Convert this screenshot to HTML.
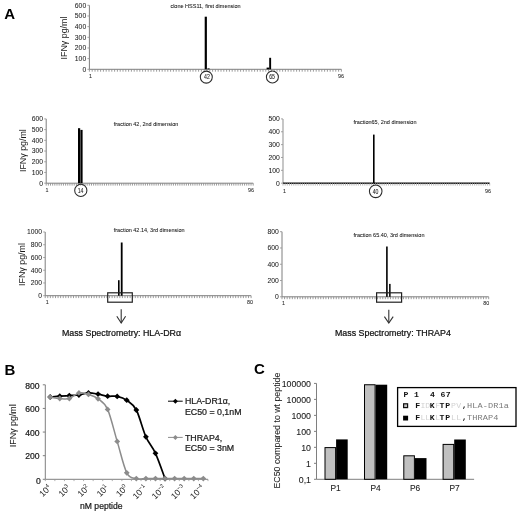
<!DOCTYPE html>
<html><head><meta charset="utf-8"><style>
html,body{margin:0;padding:0;background:#fff;width:520px;height:513px;overflow:hidden;}
svg{display:block;filter:blur(0.3px);font-family:"Liberation Sans", sans-serif;}
</style></head><body>
<svg width="520" height="513" viewBox="0 0 520 513">
<rect width="520" height="513" fill="#fff"/>
<text x="4.30" y="19.20" font-size="15" text-anchor="start" fill="#000" font-weight="bold" font-family="Liberation Sans" >A</text>
<line x1="89.40" y1="5.30" x2="89.40" y2="69.30" stroke="#7f7f7f" stroke-width="1"/>
<line x1="87.40" y1="69.30" x2="89.40" y2="69.30" stroke="#999" stroke-width="0.9"/>
<text x="86.20" y="71.70" font-size="6.8" text-anchor="end" fill="#222" stroke="#222" stroke-width="0.05" font-weight="normal" font-family="Liberation Sans" >0</text>
<line x1="87.40" y1="58.63" x2="89.40" y2="58.63" stroke="#999" stroke-width="0.9"/>
<text x="86.20" y="61.03" font-size="6.8" text-anchor="end" fill="#222" stroke="#222" stroke-width="0.05" font-weight="normal" font-family="Liberation Sans" >100</text>
<line x1="87.40" y1="47.97" x2="89.40" y2="47.97" stroke="#999" stroke-width="0.9"/>
<text x="86.20" y="50.37" font-size="6.8" text-anchor="end" fill="#222" stroke="#222" stroke-width="0.05" font-weight="normal" font-family="Liberation Sans" >200</text>
<line x1="87.40" y1="37.30" x2="89.40" y2="37.30" stroke="#999" stroke-width="0.9"/>
<text x="86.20" y="39.70" font-size="6.8" text-anchor="end" fill="#222" stroke="#222" stroke-width="0.05" font-weight="normal" font-family="Liberation Sans" >300</text>
<line x1="87.40" y1="26.63" x2="89.40" y2="26.63" stroke="#999" stroke-width="0.9"/>
<text x="86.20" y="29.03" font-size="6.8" text-anchor="end" fill="#222" stroke="#222" stroke-width="0.05" font-weight="normal" font-family="Liberation Sans" >400</text>
<line x1="87.40" y1="15.97" x2="89.40" y2="15.97" stroke="#999" stroke-width="0.9"/>
<text x="86.20" y="18.37" font-size="6.8" text-anchor="end" fill="#222" stroke="#222" stroke-width="0.05" font-weight="normal" font-family="Liberation Sans" >500</text>
<line x1="87.40" y1="5.30" x2="89.40" y2="5.30" stroke="#999" stroke-width="0.9"/>
<text x="86.20" y="7.70" font-size="6.8" text-anchor="end" fill="#222" stroke="#222" stroke-width="0.05" font-weight="normal" font-family="Liberation Sans" >600</text>
<line x1="89.40" y1="69.30" x2="341.40" y2="69.30" stroke="#7f7f7f" stroke-width="1"/>
<line x1="89.40" y1="69.30" x2="89.40" y2="71.70" stroke="#8a8a8a" stroke-width="0.85"/>
<line x1="92.20" y1="69.30" x2="92.20" y2="71.70" stroke="#8a8a8a" stroke-width="0.85"/>
<line x1="95.00" y1="69.30" x2="95.00" y2="71.70" stroke="#8a8a8a" stroke-width="0.85"/>
<line x1="97.80" y1="69.30" x2="97.80" y2="71.70" stroke="#8a8a8a" stroke-width="0.85"/>
<line x1="100.60" y1="69.30" x2="100.60" y2="71.70" stroke="#8a8a8a" stroke-width="0.85"/>
<line x1="103.40" y1="69.30" x2="103.40" y2="71.70" stroke="#8a8a8a" stroke-width="0.85"/>
<line x1="106.20" y1="69.30" x2="106.20" y2="71.70" stroke="#8a8a8a" stroke-width="0.85"/>
<line x1="109.00" y1="69.30" x2="109.00" y2="71.70" stroke="#8a8a8a" stroke-width="0.85"/>
<line x1="111.80" y1="69.30" x2="111.80" y2="71.70" stroke="#8a8a8a" stroke-width="0.85"/>
<line x1="114.60" y1="69.30" x2="114.60" y2="71.70" stroke="#8a8a8a" stroke-width="0.85"/>
<line x1="117.40" y1="69.30" x2="117.40" y2="71.70" stroke="#8a8a8a" stroke-width="0.85"/>
<line x1="120.20" y1="69.30" x2="120.20" y2="71.70" stroke="#8a8a8a" stroke-width="0.85"/>
<line x1="123.00" y1="69.30" x2="123.00" y2="71.70" stroke="#8a8a8a" stroke-width="0.85"/>
<line x1="125.80" y1="69.30" x2="125.80" y2="71.70" stroke="#8a8a8a" stroke-width="0.85"/>
<line x1="128.60" y1="69.30" x2="128.60" y2="71.70" stroke="#8a8a8a" stroke-width="0.85"/>
<line x1="131.40" y1="69.30" x2="131.40" y2="71.70" stroke="#8a8a8a" stroke-width="0.85"/>
<line x1="134.20" y1="69.30" x2="134.20" y2="71.70" stroke="#8a8a8a" stroke-width="0.85"/>
<line x1="137.00" y1="69.30" x2="137.00" y2="71.70" stroke="#8a8a8a" stroke-width="0.85"/>
<line x1="139.80" y1="69.30" x2="139.80" y2="71.70" stroke="#8a8a8a" stroke-width="0.85"/>
<line x1="142.60" y1="69.30" x2="142.60" y2="71.70" stroke="#8a8a8a" stroke-width="0.85"/>
<line x1="145.40" y1="69.30" x2="145.40" y2="71.70" stroke="#8a8a8a" stroke-width="0.85"/>
<line x1="148.20" y1="69.30" x2="148.20" y2="71.70" stroke="#8a8a8a" stroke-width="0.85"/>
<line x1="151.00" y1="69.30" x2="151.00" y2="71.70" stroke="#8a8a8a" stroke-width="0.85"/>
<line x1="153.80" y1="69.30" x2="153.80" y2="71.70" stroke="#8a8a8a" stroke-width="0.85"/>
<line x1="156.60" y1="69.30" x2="156.60" y2="71.70" stroke="#8a8a8a" stroke-width="0.85"/>
<line x1="159.40" y1="69.30" x2="159.40" y2="71.70" stroke="#8a8a8a" stroke-width="0.85"/>
<line x1="162.20" y1="69.30" x2="162.20" y2="71.70" stroke="#8a8a8a" stroke-width="0.85"/>
<line x1="165.00" y1="69.30" x2="165.00" y2="71.70" stroke="#8a8a8a" stroke-width="0.85"/>
<line x1="167.80" y1="69.30" x2="167.80" y2="71.70" stroke="#8a8a8a" stroke-width="0.85"/>
<line x1="170.60" y1="69.30" x2="170.60" y2="71.70" stroke="#8a8a8a" stroke-width="0.85"/>
<line x1="173.40" y1="69.30" x2="173.40" y2="71.70" stroke="#8a8a8a" stroke-width="0.85"/>
<line x1="176.20" y1="69.30" x2="176.20" y2="71.70" stroke="#8a8a8a" stroke-width="0.85"/>
<line x1="179.00" y1="69.30" x2="179.00" y2="71.70" stroke="#8a8a8a" stroke-width="0.85"/>
<line x1="181.80" y1="69.30" x2="181.80" y2="71.70" stroke="#8a8a8a" stroke-width="0.85"/>
<line x1="184.60" y1="69.30" x2="184.60" y2="71.70" stroke="#8a8a8a" stroke-width="0.85"/>
<line x1="187.40" y1="69.30" x2="187.40" y2="71.70" stroke="#8a8a8a" stroke-width="0.85"/>
<line x1="190.20" y1="69.30" x2="190.20" y2="71.70" stroke="#8a8a8a" stroke-width="0.85"/>
<line x1="193.00" y1="69.30" x2="193.00" y2="71.70" stroke="#8a8a8a" stroke-width="0.85"/>
<line x1="195.80" y1="69.30" x2="195.80" y2="71.70" stroke="#8a8a8a" stroke-width="0.85"/>
<line x1="198.60" y1="69.30" x2="198.60" y2="71.70" stroke="#8a8a8a" stroke-width="0.85"/>
<line x1="201.40" y1="69.30" x2="201.40" y2="71.70" stroke="#8a8a8a" stroke-width="0.85"/>
<line x1="204.20" y1="69.30" x2="204.20" y2="71.70" stroke="#8a8a8a" stroke-width="0.85"/>
<line x1="207.00" y1="69.30" x2="207.00" y2="71.70" stroke="#8a8a8a" stroke-width="0.85"/>
<line x1="209.80" y1="69.30" x2="209.80" y2="71.70" stroke="#8a8a8a" stroke-width="0.85"/>
<line x1="212.60" y1="69.30" x2="212.60" y2="71.70" stroke="#8a8a8a" stroke-width="0.85"/>
<line x1="215.40" y1="69.30" x2="215.40" y2="71.70" stroke="#8a8a8a" stroke-width="0.85"/>
<line x1="218.20" y1="69.30" x2="218.20" y2="71.70" stroke="#8a8a8a" stroke-width="0.85"/>
<line x1="221.00" y1="69.30" x2="221.00" y2="71.70" stroke="#8a8a8a" stroke-width="0.85"/>
<line x1="223.80" y1="69.30" x2="223.80" y2="71.70" stroke="#8a8a8a" stroke-width="0.85"/>
<line x1="226.60" y1="69.30" x2="226.60" y2="71.70" stroke="#8a8a8a" stroke-width="0.85"/>
<line x1="229.40" y1="69.30" x2="229.40" y2="71.70" stroke="#8a8a8a" stroke-width="0.85"/>
<line x1="232.20" y1="69.30" x2="232.20" y2="71.70" stroke="#8a8a8a" stroke-width="0.85"/>
<line x1="235.00" y1="69.30" x2="235.00" y2="71.70" stroke="#8a8a8a" stroke-width="0.85"/>
<line x1="237.80" y1="69.30" x2="237.80" y2="71.70" stroke="#8a8a8a" stroke-width="0.85"/>
<line x1="240.60" y1="69.30" x2="240.60" y2="71.70" stroke="#8a8a8a" stroke-width="0.85"/>
<line x1="243.40" y1="69.30" x2="243.40" y2="71.70" stroke="#8a8a8a" stroke-width="0.85"/>
<line x1="246.20" y1="69.30" x2="246.20" y2="71.70" stroke="#8a8a8a" stroke-width="0.85"/>
<line x1="249.00" y1="69.30" x2="249.00" y2="71.70" stroke="#8a8a8a" stroke-width="0.85"/>
<line x1="251.80" y1="69.30" x2="251.80" y2="71.70" stroke="#8a8a8a" stroke-width="0.85"/>
<line x1="254.60" y1="69.30" x2="254.60" y2="71.70" stroke="#8a8a8a" stroke-width="0.85"/>
<line x1="257.40" y1="69.30" x2="257.40" y2="71.70" stroke="#8a8a8a" stroke-width="0.85"/>
<line x1="260.20" y1="69.30" x2="260.20" y2="71.70" stroke="#8a8a8a" stroke-width="0.85"/>
<line x1="263.00" y1="69.30" x2="263.00" y2="71.70" stroke="#8a8a8a" stroke-width="0.85"/>
<line x1="265.80" y1="69.30" x2="265.80" y2="71.70" stroke="#8a8a8a" stroke-width="0.85"/>
<line x1="268.60" y1="69.30" x2="268.60" y2="71.70" stroke="#8a8a8a" stroke-width="0.85"/>
<line x1="271.40" y1="69.30" x2="271.40" y2="71.70" stroke="#8a8a8a" stroke-width="0.85"/>
<line x1="274.20" y1="69.30" x2="274.20" y2="71.70" stroke="#8a8a8a" stroke-width="0.85"/>
<line x1="277.00" y1="69.30" x2="277.00" y2="71.70" stroke="#8a8a8a" stroke-width="0.85"/>
<line x1="279.80" y1="69.30" x2="279.80" y2="71.70" stroke="#8a8a8a" stroke-width="0.85"/>
<line x1="282.60" y1="69.30" x2="282.60" y2="71.70" stroke="#8a8a8a" stroke-width="0.85"/>
<line x1="285.40" y1="69.30" x2="285.40" y2="71.70" stroke="#8a8a8a" stroke-width="0.85"/>
<line x1="288.20" y1="69.30" x2="288.20" y2="71.70" stroke="#8a8a8a" stroke-width="0.85"/>
<line x1="291.00" y1="69.30" x2="291.00" y2="71.70" stroke="#8a8a8a" stroke-width="0.85"/>
<line x1="293.80" y1="69.30" x2="293.80" y2="71.70" stroke="#8a8a8a" stroke-width="0.85"/>
<line x1="296.60" y1="69.30" x2="296.60" y2="71.70" stroke="#8a8a8a" stroke-width="0.85"/>
<line x1="299.40" y1="69.30" x2="299.40" y2="71.70" stroke="#8a8a8a" stroke-width="0.85"/>
<line x1="302.20" y1="69.30" x2="302.20" y2="71.70" stroke="#8a8a8a" stroke-width="0.85"/>
<line x1="305.00" y1="69.30" x2="305.00" y2="71.70" stroke="#8a8a8a" stroke-width="0.85"/>
<line x1="307.80" y1="69.30" x2="307.80" y2="71.70" stroke="#8a8a8a" stroke-width="0.85"/>
<line x1="310.60" y1="69.30" x2="310.60" y2="71.70" stroke="#8a8a8a" stroke-width="0.85"/>
<line x1="313.40" y1="69.30" x2="313.40" y2="71.70" stroke="#8a8a8a" stroke-width="0.85"/>
<line x1="316.20" y1="69.30" x2="316.20" y2="71.70" stroke="#8a8a8a" stroke-width="0.85"/>
<line x1="319.00" y1="69.30" x2="319.00" y2="71.70" stroke="#8a8a8a" stroke-width="0.85"/>
<line x1="321.80" y1="69.30" x2="321.80" y2="71.70" stroke="#8a8a8a" stroke-width="0.85"/>
<line x1="324.60" y1="69.30" x2="324.60" y2="71.70" stroke="#8a8a8a" stroke-width="0.85"/>
<line x1="327.40" y1="69.30" x2="327.40" y2="71.70" stroke="#8a8a8a" stroke-width="0.85"/>
<line x1="330.20" y1="69.30" x2="330.20" y2="71.70" stroke="#8a8a8a" stroke-width="0.85"/>
<line x1="333.00" y1="69.30" x2="333.00" y2="71.70" stroke="#8a8a8a" stroke-width="0.85"/>
<line x1="335.80" y1="69.30" x2="335.80" y2="71.70" stroke="#8a8a8a" stroke-width="0.85"/>
<line x1="338.60" y1="69.30" x2="338.60" y2="71.70" stroke="#8a8a8a" stroke-width="0.85"/>
<line x1="341.40" y1="69.30" x2="341.40" y2="71.70" stroke="#8a8a8a" stroke-width="0.85"/>
<text x="90.60" y="78.30" font-size="5.4" text-anchor="middle" fill="#222" stroke="#222" stroke-width="0.05" font-weight="normal" font-family="Liberation Sans" >1</text>
<text x="340.90" y="78.30" font-size="5.4" text-anchor="middle" fill="#222" stroke="#222" stroke-width="0.05" font-weight="normal" font-family="Liberation Sans" >96</text>
<text x="205.50" y="8.20" font-size="5.5" text-anchor="middle" fill="#111" stroke="#111" stroke-width="0.05" font-weight="normal" font-family="Liberation Sans" >clone HSS11, first dimension</text>
<text x="67.20" y="38.00" font-size="8.9" text-anchor="middle" fill="#1a1a1a" font-weight="normal" font-family="Liberation Sans" transform="rotate(-90 67.20 38.00)">IFN&#947; pg/ml</text>
<rect x="204.70" y="16.70" width="2.20" height="52.60" fill="#000" stroke="none" stroke-width="0"/>
<rect x="207.40" y="68.40" width="2.20" height="0.90" fill="#000" stroke="none" stroke-width="0"/>
<rect x="266.60" y="67.60" width="2.60" height="1.70" fill="#000" stroke="none" stroke-width="0"/>
<rect x="269.20" y="57.80" width="1.90" height="11.50" fill="#000" stroke="none" stroke-width="0"/>
<circle cx="206.30" cy="77.10" r="6.00" fill="none" stroke="#2a2a2a" stroke-width="1.05"/>
<text transform="translate(207.00 79.16) scale(1 1.27)" x="0" y="0" font-size="5.2" text-anchor="middle" fill="#1a1a1a" stroke="#1a1a1a" stroke-width="0.05" font-family="Liberation Sans">42</text>
<circle cx="272.40" cy="77.00" r="6.00" fill="none" stroke="#2a2a2a" stroke-width="1.05"/>
<text transform="translate(272.10 78.96) scale(1 1.27)" x="0" y="0" font-size="5.2" text-anchor="middle" fill="#1a1a1a" stroke="#1a1a1a" stroke-width="0.05" font-family="Liberation Sans">65</text>
<line x1="46.20" y1="118.90" x2="46.20" y2="183.20" stroke="#7f7f7f" stroke-width="1"/>
<line x1="44.20" y1="183.20" x2="46.20" y2="183.20" stroke="#999" stroke-width="0.9"/>
<text x="43.00" y="185.60" font-size="6.8" text-anchor="end" fill="#222" stroke="#222" stroke-width="0.05" font-weight="normal" font-family="Liberation Sans" >0</text>
<line x1="44.20" y1="172.48" x2="46.20" y2="172.48" stroke="#999" stroke-width="0.9"/>
<text x="43.00" y="174.88" font-size="6.8" text-anchor="end" fill="#222" stroke="#222" stroke-width="0.05" font-weight="normal" font-family="Liberation Sans" >100</text>
<line x1="44.20" y1="161.77" x2="46.20" y2="161.77" stroke="#999" stroke-width="0.9"/>
<text x="43.00" y="164.17" font-size="6.8" text-anchor="end" fill="#222" stroke="#222" stroke-width="0.05" font-weight="normal" font-family="Liberation Sans" >200</text>
<line x1="44.20" y1="151.05" x2="46.20" y2="151.05" stroke="#999" stroke-width="0.9"/>
<text x="43.00" y="153.45" font-size="6.8" text-anchor="end" fill="#222" stroke="#222" stroke-width="0.05" font-weight="normal" font-family="Liberation Sans" >300</text>
<line x1="44.20" y1="140.33" x2="46.20" y2="140.33" stroke="#999" stroke-width="0.9"/>
<text x="43.00" y="142.73" font-size="6.8" text-anchor="end" fill="#222" stroke="#222" stroke-width="0.05" font-weight="normal" font-family="Liberation Sans" >400</text>
<line x1="44.20" y1="129.62" x2="46.20" y2="129.62" stroke="#999" stroke-width="0.9"/>
<text x="43.00" y="132.02" font-size="6.8" text-anchor="end" fill="#222" stroke="#222" stroke-width="0.05" font-weight="normal" font-family="Liberation Sans" >500</text>
<line x1="44.20" y1="118.90" x2="46.20" y2="118.90" stroke="#999" stroke-width="0.9"/>
<text x="43.00" y="121.30" font-size="6.8" text-anchor="end" fill="#222" stroke="#222" stroke-width="0.05" font-weight="normal" font-family="Liberation Sans" >600</text>
<line x1="46.20" y1="183.20" x2="253.20" y2="183.20" stroke="#7f7f7f" stroke-width="1"/>
<line x1="46.20" y1="183.20" x2="46.20" y2="185.60" stroke="#8a8a8a" stroke-width="0.85"/>
<line x1="48.36" y1="183.20" x2="48.36" y2="185.60" stroke="#8a8a8a" stroke-width="0.85"/>
<line x1="50.51" y1="183.20" x2="50.51" y2="185.60" stroke="#8a8a8a" stroke-width="0.85"/>
<line x1="52.67" y1="183.20" x2="52.67" y2="185.60" stroke="#8a8a8a" stroke-width="0.85"/>
<line x1="54.83" y1="183.20" x2="54.83" y2="185.60" stroke="#8a8a8a" stroke-width="0.85"/>
<line x1="56.98" y1="183.20" x2="56.98" y2="185.60" stroke="#8a8a8a" stroke-width="0.85"/>
<line x1="59.14" y1="183.20" x2="59.14" y2="185.60" stroke="#8a8a8a" stroke-width="0.85"/>
<line x1="61.29" y1="183.20" x2="61.29" y2="185.60" stroke="#8a8a8a" stroke-width="0.85"/>
<line x1="63.45" y1="183.20" x2="63.45" y2="185.60" stroke="#8a8a8a" stroke-width="0.85"/>
<line x1="65.61" y1="183.20" x2="65.61" y2="185.60" stroke="#8a8a8a" stroke-width="0.85"/>
<line x1="67.76" y1="183.20" x2="67.76" y2="185.60" stroke="#8a8a8a" stroke-width="0.85"/>
<line x1="69.92" y1="183.20" x2="69.92" y2="185.60" stroke="#8a8a8a" stroke-width="0.85"/>
<line x1="72.08" y1="183.20" x2="72.08" y2="185.60" stroke="#8a8a8a" stroke-width="0.85"/>
<line x1="74.23" y1="183.20" x2="74.23" y2="185.60" stroke="#8a8a8a" stroke-width="0.85"/>
<line x1="76.39" y1="183.20" x2="76.39" y2="185.60" stroke="#8a8a8a" stroke-width="0.85"/>
<line x1="78.54" y1="183.20" x2="78.54" y2="185.60" stroke="#8a8a8a" stroke-width="0.85"/>
<line x1="80.70" y1="183.20" x2="80.70" y2="185.60" stroke="#8a8a8a" stroke-width="0.85"/>
<line x1="82.86" y1="183.20" x2="82.86" y2="185.60" stroke="#8a8a8a" stroke-width="0.85"/>
<line x1="85.01" y1="183.20" x2="85.01" y2="185.60" stroke="#8a8a8a" stroke-width="0.85"/>
<line x1="87.17" y1="183.20" x2="87.17" y2="185.60" stroke="#8a8a8a" stroke-width="0.85"/>
<line x1="89.33" y1="183.20" x2="89.33" y2="185.60" stroke="#8a8a8a" stroke-width="0.85"/>
<line x1="91.48" y1="183.20" x2="91.48" y2="185.60" stroke="#8a8a8a" stroke-width="0.85"/>
<line x1="93.64" y1="183.20" x2="93.64" y2="185.60" stroke="#8a8a8a" stroke-width="0.85"/>
<line x1="95.79" y1="183.20" x2="95.79" y2="185.60" stroke="#8a8a8a" stroke-width="0.85"/>
<line x1="97.95" y1="183.20" x2="97.95" y2="185.60" stroke="#8a8a8a" stroke-width="0.85"/>
<line x1="100.11" y1="183.20" x2="100.11" y2="185.60" stroke="#8a8a8a" stroke-width="0.85"/>
<line x1="102.26" y1="183.20" x2="102.26" y2="185.60" stroke="#8a8a8a" stroke-width="0.85"/>
<line x1="104.42" y1="183.20" x2="104.42" y2="185.60" stroke="#8a8a8a" stroke-width="0.85"/>
<line x1="106.58" y1="183.20" x2="106.58" y2="185.60" stroke="#8a8a8a" stroke-width="0.85"/>
<line x1="108.73" y1="183.20" x2="108.73" y2="185.60" stroke="#8a8a8a" stroke-width="0.85"/>
<line x1="110.89" y1="183.20" x2="110.89" y2="185.60" stroke="#8a8a8a" stroke-width="0.85"/>
<line x1="113.04" y1="183.20" x2="113.04" y2="185.60" stroke="#8a8a8a" stroke-width="0.85"/>
<line x1="115.20" y1="183.20" x2="115.20" y2="185.60" stroke="#8a8a8a" stroke-width="0.85"/>
<line x1="117.36" y1="183.20" x2="117.36" y2="185.60" stroke="#8a8a8a" stroke-width="0.85"/>
<line x1="119.51" y1="183.20" x2="119.51" y2="185.60" stroke="#8a8a8a" stroke-width="0.85"/>
<line x1="121.67" y1="183.20" x2="121.67" y2="185.60" stroke="#8a8a8a" stroke-width="0.85"/>
<line x1="123.83" y1="183.20" x2="123.83" y2="185.60" stroke="#8a8a8a" stroke-width="0.85"/>
<line x1="125.98" y1="183.20" x2="125.98" y2="185.60" stroke="#8a8a8a" stroke-width="0.85"/>
<line x1="128.14" y1="183.20" x2="128.14" y2="185.60" stroke="#8a8a8a" stroke-width="0.85"/>
<line x1="130.29" y1="183.20" x2="130.29" y2="185.60" stroke="#8a8a8a" stroke-width="0.85"/>
<line x1="132.45" y1="183.20" x2="132.45" y2="185.60" stroke="#8a8a8a" stroke-width="0.85"/>
<line x1="134.61" y1="183.20" x2="134.61" y2="185.60" stroke="#8a8a8a" stroke-width="0.85"/>
<line x1="136.76" y1="183.20" x2="136.76" y2="185.60" stroke="#8a8a8a" stroke-width="0.85"/>
<line x1="138.92" y1="183.20" x2="138.92" y2="185.60" stroke="#8a8a8a" stroke-width="0.85"/>
<line x1="141.07" y1="183.20" x2="141.07" y2="185.60" stroke="#8a8a8a" stroke-width="0.85"/>
<line x1="143.23" y1="183.20" x2="143.23" y2="185.60" stroke="#8a8a8a" stroke-width="0.85"/>
<line x1="145.39" y1="183.20" x2="145.39" y2="185.60" stroke="#8a8a8a" stroke-width="0.85"/>
<line x1="147.54" y1="183.20" x2="147.54" y2="185.60" stroke="#8a8a8a" stroke-width="0.85"/>
<line x1="149.70" y1="183.20" x2="149.70" y2="185.60" stroke="#8a8a8a" stroke-width="0.85"/>
<line x1="151.86" y1="183.20" x2="151.86" y2="185.60" stroke="#8a8a8a" stroke-width="0.85"/>
<line x1="154.01" y1="183.20" x2="154.01" y2="185.60" stroke="#8a8a8a" stroke-width="0.85"/>
<line x1="156.17" y1="183.20" x2="156.17" y2="185.60" stroke="#8a8a8a" stroke-width="0.85"/>
<line x1="158.32" y1="183.20" x2="158.32" y2="185.60" stroke="#8a8a8a" stroke-width="0.85"/>
<line x1="160.48" y1="183.20" x2="160.48" y2="185.60" stroke="#8a8a8a" stroke-width="0.85"/>
<line x1="162.64" y1="183.20" x2="162.64" y2="185.60" stroke="#8a8a8a" stroke-width="0.85"/>
<line x1="164.79" y1="183.20" x2="164.79" y2="185.60" stroke="#8a8a8a" stroke-width="0.85"/>
<line x1="166.95" y1="183.20" x2="166.95" y2="185.60" stroke="#8a8a8a" stroke-width="0.85"/>
<line x1="169.11" y1="183.20" x2="169.11" y2="185.60" stroke="#8a8a8a" stroke-width="0.85"/>
<line x1="171.26" y1="183.20" x2="171.26" y2="185.60" stroke="#8a8a8a" stroke-width="0.85"/>
<line x1="173.42" y1="183.20" x2="173.42" y2="185.60" stroke="#8a8a8a" stroke-width="0.85"/>
<line x1="175.57" y1="183.20" x2="175.57" y2="185.60" stroke="#8a8a8a" stroke-width="0.85"/>
<line x1="177.73" y1="183.20" x2="177.73" y2="185.60" stroke="#8a8a8a" stroke-width="0.85"/>
<line x1="179.89" y1="183.20" x2="179.89" y2="185.60" stroke="#8a8a8a" stroke-width="0.85"/>
<line x1="182.04" y1="183.20" x2="182.04" y2="185.60" stroke="#8a8a8a" stroke-width="0.85"/>
<line x1="184.20" y1="183.20" x2="184.20" y2="185.60" stroke="#8a8a8a" stroke-width="0.85"/>
<line x1="186.36" y1="183.20" x2="186.36" y2="185.60" stroke="#8a8a8a" stroke-width="0.85"/>
<line x1="188.51" y1="183.20" x2="188.51" y2="185.60" stroke="#8a8a8a" stroke-width="0.85"/>
<line x1="190.67" y1="183.20" x2="190.67" y2="185.60" stroke="#8a8a8a" stroke-width="0.85"/>
<line x1="192.82" y1="183.20" x2="192.82" y2="185.60" stroke="#8a8a8a" stroke-width="0.85"/>
<line x1="194.98" y1="183.20" x2="194.98" y2="185.60" stroke="#8a8a8a" stroke-width="0.85"/>
<line x1="197.14" y1="183.20" x2="197.14" y2="185.60" stroke="#8a8a8a" stroke-width="0.85"/>
<line x1="199.29" y1="183.20" x2="199.29" y2="185.60" stroke="#8a8a8a" stroke-width="0.85"/>
<line x1="201.45" y1="183.20" x2="201.45" y2="185.60" stroke="#8a8a8a" stroke-width="0.85"/>
<line x1="203.61" y1="183.20" x2="203.61" y2="185.60" stroke="#8a8a8a" stroke-width="0.85"/>
<line x1="205.76" y1="183.20" x2="205.76" y2="185.60" stroke="#8a8a8a" stroke-width="0.85"/>
<line x1="207.92" y1="183.20" x2="207.92" y2="185.60" stroke="#8a8a8a" stroke-width="0.85"/>
<line x1="210.07" y1="183.20" x2="210.07" y2="185.60" stroke="#8a8a8a" stroke-width="0.85"/>
<line x1="212.23" y1="183.20" x2="212.23" y2="185.60" stroke="#8a8a8a" stroke-width="0.85"/>
<line x1="214.39" y1="183.20" x2="214.39" y2="185.60" stroke="#8a8a8a" stroke-width="0.85"/>
<line x1="216.54" y1="183.20" x2="216.54" y2="185.60" stroke="#8a8a8a" stroke-width="0.85"/>
<line x1="218.70" y1="183.20" x2="218.70" y2="185.60" stroke="#8a8a8a" stroke-width="0.85"/>
<line x1="220.86" y1="183.20" x2="220.86" y2="185.60" stroke="#8a8a8a" stroke-width="0.85"/>
<line x1="223.01" y1="183.20" x2="223.01" y2="185.60" stroke="#8a8a8a" stroke-width="0.85"/>
<line x1="225.17" y1="183.20" x2="225.17" y2="185.60" stroke="#8a8a8a" stroke-width="0.85"/>
<line x1="227.32" y1="183.20" x2="227.32" y2="185.60" stroke="#8a8a8a" stroke-width="0.85"/>
<line x1="229.48" y1="183.20" x2="229.48" y2="185.60" stroke="#8a8a8a" stroke-width="0.85"/>
<line x1="231.64" y1="183.20" x2="231.64" y2="185.60" stroke="#8a8a8a" stroke-width="0.85"/>
<line x1="233.79" y1="183.20" x2="233.79" y2="185.60" stroke="#8a8a8a" stroke-width="0.85"/>
<line x1="235.95" y1="183.20" x2="235.95" y2="185.60" stroke="#8a8a8a" stroke-width="0.85"/>
<line x1="238.11" y1="183.20" x2="238.11" y2="185.60" stroke="#8a8a8a" stroke-width="0.85"/>
<line x1="240.26" y1="183.20" x2="240.26" y2="185.60" stroke="#8a8a8a" stroke-width="0.85"/>
<line x1="242.42" y1="183.20" x2="242.42" y2="185.60" stroke="#8a8a8a" stroke-width="0.85"/>
<line x1="244.57" y1="183.20" x2="244.57" y2="185.60" stroke="#8a8a8a" stroke-width="0.85"/>
<line x1="246.73" y1="183.20" x2="246.73" y2="185.60" stroke="#8a8a8a" stroke-width="0.85"/>
<line x1="248.89" y1="183.20" x2="248.89" y2="185.60" stroke="#8a8a8a" stroke-width="0.85"/>
<line x1="251.04" y1="183.20" x2="251.04" y2="185.60" stroke="#8a8a8a" stroke-width="0.85"/>
<line x1="253.20" y1="183.20" x2="253.20" y2="185.60" stroke="#8a8a8a" stroke-width="0.85"/>
<text x="47.08" y="192.20" font-size="5.4" text-anchor="middle" fill="#222" stroke="#222" stroke-width="0.05" font-weight="normal" font-family="Liberation Sans" >1</text>
<text x="251.10" y="192.20" font-size="5.4" text-anchor="middle" fill="#222" stroke="#222" stroke-width="0.05" font-weight="normal" font-family="Liberation Sans" >96</text>
<text x="146.00" y="125.50" font-size="5.5" text-anchor="middle" fill="#111" stroke="#111" stroke-width="0.05" font-weight="normal" font-family="Liberation Sans" >fraction 42, 2nd dimension</text>
<text x="25.70" y="150.60" font-size="8.9" text-anchor="middle" fill="#1a1a1a" font-weight="normal" font-family="Liberation Sans" transform="rotate(-90 25.70 150.60)">IFN&#947; pg/ml</text>
<rect x="78.00" y="128.20" width="2.20" height="55.00" fill="#000" stroke="none" stroke-width="0"/>
<rect x="80.40" y="129.90" width="2.20" height="53.30" fill="#000" stroke="none" stroke-width="0"/>
<circle cx="80.80" cy="190.40" r="6.10" fill="none" stroke="#2a2a2a" stroke-width="1.05"/>
<text transform="translate(80.60 192.76) scale(1 1.27)" x="0" y="0" font-size="5.2" text-anchor="middle" fill="#1a1a1a" stroke="#1a1a1a" stroke-width="0.05" font-family="Liberation Sans">14</text>
<line x1="283.00" y1="118.90" x2="283.00" y2="183.20" stroke="#bdbdbd" stroke-width="1.7"/>
<line x1="281.00" y1="183.20" x2="283.00" y2="183.20" stroke="#999" stroke-width="0.9"/>
<text x="279.80" y="185.60" font-size="6.8" text-anchor="end" fill="#222" stroke="#222" stroke-width="0.05" font-weight="normal" font-family="Liberation Sans" >0</text>
<line x1="281.00" y1="170.34" x2="283.00" y2="170.34" stroke="#999" stroke-width="0.9"/>
<text x="279.80" y="172.74" font-size="6.8" text-anchor="end" fill="#222" stroke="#222" stroke-width="0.05" font-weight="normal" font-family="Liberation Sans" >100</text>
<line x1="281.00" y1="157.48" x2="283.00" y2="157.48" stroke="#999" stroke-width="0.9"/>
<text x="279.80" y="159.88" font-size="6.8" text-anchor="end" fill="#222" stroke="#222" stroke-width="0.05" font-weight="normal" font-family="Liberation Sans" >200</text>
<line x1="281.00" y1="144.62" x2="283.00" y2="144.62" stroke="#999" stroke-width="0.9"/>
<text x="279.80" y="147.02" font-size="6.8" text-anchor="end" fill="#222" stroke="#222" stroke-width="0.05" font-weight="normal" font-family="Liberation Sans" >300</text>
<line x1="281.00" y1="131.76" x2="283.00" y2="131.76" stroke="#999" stroke-width="0.9"/>
<text x="279.80" y="134.16" font-size="6.8" text-anchor="end" fill="#222" stroke="#222" stroke-width="0.05" font-weight="normal" font-family="Liberation Sans" >400</text>
<line x1="281.00" y1="118.90" x2="283.00" y2="118.90" stroke="#999" stroke-width="0.9"/>
<text x="279.80" y="121.30" font-size="6.8" text-anchor="end" fill="#222" stroke="#222" stroke-width="0.05" font-weight="normal" font-family="Liberation Sans" >500</text>
<line x1="283.00" y1="183.20" x2="489.70" y2="183.20" stroke="#111" stroke-width="1.4"/>
<line x1="283.00" y1="183.20" x2="283.00" y2="185.60" stroke="#aaaaaa" stroke-width="0.85"/>
<line x1="285.15" y1="183.20" x2="285.15" y2="185.60" stroke="#aaaaaa" stroke-width="0.85"/>
<line x1="287.31" y1="183.20" x2="287.31" y2="185.60" stroke="#aaaaaa" stroke-width="0.85"/>
<line x1="289.46" y1="183.20" x2="289.46" y2="185.60" stroke="#aaaaaa" stroke-width="0.85"/>
<line x1="291.61" y1="183.20" x2="291.61" y2="185.60" stroke="#aaaaaa" stroke-width="0.85"/>
<line x1="293.77" y1="183.20" x2="293.77" y2="185.60" stroke="#aaaaaa" stroke-width="0.85"/>
<line x1="295.92" y1="183.20" x2="295.92" y2="185.60" stroke="#aaaaaa" stroke-width="0.85"/>
<line x1="298.07" y1="183.20" x2="298.07" y2="185.60" stroke="#aaaaaa" stroke-width="0.85"/>
<line x1="300.23" y1="183.20" x2="300.23" y2="185.60" stroke="#aaaaaa" stroke-width="0.85"/>
<line x1="302.38" y1="183.20" x2="302.38" y2="185.60" stroke="#aaaaaa" stroke-width="0.85"/>
<line x1="304.53" y1="183.20" x2="304.53" y2="185.60" stroke="#aaaaaa" stroke-width="0.85"/>
<line x1="306.68" y1="183.20" x2="306.68" y2="185.60" stroke="#aaaaaa" stroke-width="0.85"/>
<line x1="308.84" y1="183.20" x2="308.84" y2="185.60" stroke="#aaaaaa" stroke-width="0.85"/>
<line x1="310.99" y1="183.20" x2="310.99" y2="185.60" stroke="#aaaaaa" stroke-width="0.85"/>
<line x1="313.14" y1="183.20" x2="313.14" y2="185.60" stroke="#aaaaaa" stroke-width="0.85"/>
<line x1="315.30" y1="183.20" x2="315.30" y2="185.60" stroke="#aaaaaa" stroke-width="0.85"/>
<line x1="317.45" y1="183.20" x2="317.45" y2="185.60" stroke="#aaaaaa" stroke-width="0.85"/>
<line x1="319.60" y1="183.20" x2="319.60" y2="185.60" stroke="#aaaaaa" stroke-width="0.85"/>
<line x1="321.76" y1="183.20" x2="321.76" y2="185.60" stroke="#aaaaaa" stroke-width="0.85"/>
<line x1="323.91" y1="183.20" x2="323.91" y2="185.60" stroke="#aaaaaa" stroke-width="0.85"/>
<line x1="326.06" y1="183.20" x2="326.06" y2="185.60" stroke="#aaaaaa" stroke-width="0.85"/>
<line x1="328.22" y1="183.20" x2="328.22" y2="185.60" stroke="#aaaaaa" stroke-width="0.85"/>
<line x1="330.37" y1="183.20" x2="330.37" y2="185.60" stroke="#aaaaaa" stroke-width="0.85"/>
<line x1="332.52" y1="183.20" x2="332.52" y2="185.60" stroke="#aaaaaa" stroke-width="0.85"/>
<line x1="334.68" y1="183.20" x2="334.68" y2="185.60" stroke="#aaaaaa" stroke-width="0.85"/>
<line x1="336.83" y1="183.20" x2="336.83" y2="185.60" stroke="#aaaaaa" stroke-width="0.85"/>
<line x1="338.98" y1="183.20" x2="338.98" y2="185.60" stroke="#aaaaaa" stroke-width="0.85"/>
<line x1="341.13" y1="183.20" x2="341.13" y2="185.60" stroke="#aaaaaa" stroke-width="0.85"/>
<line x1="343.29" y1="183.20" x2="343.29" y2="185.60" stroke="#aaaaaa" stroke-width="0.85"/>
<line x1="345.44" y1="183.20" x2="345.44" y2="185.60" stroke="#aaaaaa" stroke-width="0.85"/>
<line x1="347.59" y1="183.20" x2="347.59" y2="185.60" stroke="#aaaaaa" stroke-width="0.85"/>
<line x1="349.75" y1="183.20" x2="349.75" y2="185.60" stroke="#aaaaaa" stroke-width="0.85"/>
<line x1="351.90" y1="183.20" x2="351.90" y2="185.60" stroke="#aaaaaa" stroke-width="0.85"/>
<line x1="354.05" y1="183.20" x2="354.05" y2="185.60" stroke="#aaaaaa" stroke-width="0.85"/>
<line x1="356.21" y1="183.20" x2="356.21" y2="185.60" stroke="#aaaaaa" stroke-width="0.85"/>
<line x1="358.36" y1="183.20" x2="358.36" y2="185.60" stroke="#aaaaaa" stroke-width="0.85"/>
<line x1="360.51" y1="183.20" x2="360.51" y2="185.60" stroke="#aaaaaa" stroke-width="0.85"/>
<line x1="362.67" y1="183.20" x2="362.67" y2="185.60" stroke="#aaaaaa" stroke-width="0.85"/>
<line x1="364.82" y1="183.20" x2="364.82" y2="185.60" stroke="#aaaaaa" stroke-width="0.85"/>
<line x1="366.97" y1="183.20" x2="366.97" y2="185.60" stroke="#aaaaaa" stroke-width="0.85"/>
<line x1="369.12" y1="183.20" x2="369.12" y2="185.60" stroke="#aaaaaa" stroke-width="0.85"/>
<line x1="371.28" y1="183.20" x2="371.28" y2="185.60" stroke="#aaaaaa" stroke-width="0.85"/>
<line x1="373.43" y1="183.20" x2="373.43" y2="185.60" stroke="#aaaaaa" stroke-width="0.85"/>
<line x1="375.58" y1="183.20" x2="375.58" y2="185.60" stroke="#aaaaaa" stroke-width="0.85"/>
<line x1="377.74" y1="183.20" x2="377.74" y2="185.60" stroke="#aaaaaa" stroke-width="0.85"/>
<line x1="379.89" y1="183.20" x2="379.89" y2="185.60" stroke="#aaaaaa" stroke-width="0.85"/>
<line x1="382.04" y1="183.20" x2="382.04" y2="185.60" stroke="#aaaaaa" stroke-width="0.85"/>
<line x1="384.20" y1="183.20" x2="384.20" y2="185.60" stroke="#aaaaaa" stroke-width="0.85"/>
<line x1="386.35" y1="183.20" x2="386.35" y2="185.60" stroke="#aaaaaa" stroke-width="0.85"/>
<line x1="388.50" y1="183.20" x2="388.50" y2="185.60" stroke="#aaaaaa" stroke-width="0.85"/>
<line x1="390.66" y1="183.20" x2="390.66" y2="185.60" stroke="#aaaaaa" stroke-width="0.85"/>
<line x1="392.81" y1="183.20" x2="392.81" y2="185.60" stroke="#aaaaaa" stroke-width="0.85"/>
<line x1="394.96" y1="183.20" x2="394.96" y2="185.60" stroke="#aaaaaa" stroke-width="0.85"/>
<line x1="397.12" y1="183.20" x2="397.12" y2="185.60" stroke="#aaaaaa" stroke-width="0.85"/>
<line x1="399.27" y1="183.20" x2="399.27" y2="185.60" stroke="#aaaaaa" stroke-width="0.85"/>
<line x1="401.42" y1="183.20" x2="401.42" y2="185.60" stroke="#aaaaaa" stroke-width="0.85"/>
<line x1="403.57" y1="183.20" x2="403.57" y2="185.60" stroke="#aaaaaa" stroke-width="0.85"/>
<line x1="405.73" y1="183.20" x2="405.73" y2="185.60" stroke="#aaaaaa" stroke-width="0.85"/>
<line x1="407.88" y1="183.20" x2="407.88" y2="185.60" stroke="#aaaaaa" stroke-width="0.85"/>
<line x1="410.03" y1="183.20" x2="410.03" y2="185.60" stroke="#aaaaaa" stroke-width="0.85"/>
<line x1="412.19" y1="183.20" x2="412.19" y2="185.60" stroke="#aaaaaa" stroke-width="0.85"/>
<line x1="414.34" y1="183.20" x2="414.34" y2="185.60" stroke="#aaaaaa" stroke-width="0.85"/>
<line x1="416.49" y1="183.20" x2="416.49" y2="185.60" stroke="#aaaaaa" stroke-width="0.85"/>
<line x1="418.65" y1="183.20" x2="418.65" y2="185.60" stroke="#aaaaaa" stroke-width="0.85"/>
<line x1="420.80" y1="183.20" x2="420.80" y2="185.60" stroke="#aaaaaa" stroke-width="0.85"/>
<line x1="422.95" y1="183.20" x2="422.95" y2="185.60" stroke="#aaaaaa" stroke-width="0.85"/>
<line x1="425.11" y1="183.20" x2="425.11" y2="185.60" stroke="#aaaaaa" stroke-width="0.85"/>
<line x1="427.26" y1="183.20" x2="427.26" y2="185.60" stroke="#aaaaaa" stroke-width="0.85"/>
<line x1="429.41" y1="183.20" x2="429.41" y2="185.60" stroke="#aaaaaa" stroke-width="0.85"/>
<line x1="431.57" y1="183.20" x2="431.57" y2="185.60" stroke="#aaaaaa" stroke-width="0.85"/>
<line x1="433.72" y1="183.20" x2="433.72" y2="185.60" stroke="#aaaaaa" stroke-width="0.85"/>
<line x1="435.87" y1="183.20" x2="435.87" y2="185.60" stroke="#aaaaaa" stroke-width="0.85"/>
<line x1="438.02" y1="183.20" x2="438.02" y2="185.60" stroke="#aaaaaa" stroke-width="0.85"/>
<line x1="440.18" y1="183.20" x2="440.18" y2="185.60" stroke="#aaaaaa" stroke-width="0.85"/>
<line x1="442.33" y1="183.20" x2="442.33" y2="185.60" stroke="#aaaaaa" stroke-width="0.85"/>
<line x1="444.48" y1="183.20" x2="444.48" y2="185.60" stroke="#aaaaaa" stroke-width="0.85"/>
<line x1="446.64" y1="183.20" x2="446.64" y2="185.60" stroke="#aaaaaa" stroke-width="0.85"/>
<line x1="448.79" y1="183.20" x2="448.79" y2="185.60" stroke="#aaaaaa" stroke-width="0.85"/>
<line x1="450.94" y1="183.20" x2="450.94" y2="185.60" stroke="#aaaaaa" stroke-width="0.85"/>
<line x1="453.10" y1="183.20" x2="453.10" y2="185.60" stroke="#aaaaaa" stroke-width="0.85"/>
<line x1="455.25" y1="183.20" x2="455.25" y2="185.60" stroke="#aaaaaa" stroke-width="0.85"/>
<line x1="457.40" y1="183.20" x2="457.40" y2="185.60" stroke="#aaaaaa" stroke-width="0.85"/>
<line x1="459.56" y1="183.20" x2="459.56" y2="185.60" stroke="#aaaaaa" stroke-width="0.85"/>
<line x1="461.71" y1="183.20" x2="461.71" y2="185.60" stroke="#aaaaaa" stroke-width="0.85"/>
<line x1="463.86" y1="183.20" x2="463.86" y2="185.60" stroke="#aaaaaa" stroke-width="0.85"/>
<line x1="466.02" y1="183.20" x2="466.02" y2="185.60" stroke="#aaaaaa" stroke-width="0.85"/>
<line x1="468.17" y1="183.20" x2="468.17" y2="185.60" stroke="#aaaaaa" stroke-width="0.85"/>
<line x1="470.32" y1="183.20" x2="470.32" y2="185.60" stroke="#aaaaaa" stroke-width="0.85"/>
<line x1="472.47" y1="183.20" x2="472.47" y2="185.60" stroke="#aaaaaa" stroke-width="0.85"/>
<line x1="474.63" y1="183.20" x2="474.63" y2="185.60" stroke="#aaaaaa" stroke-width="0.85"/>
<line x1="476.78" y1="183.20" x2="476.78" y2="185.60" stroke="#aaaaaa" stroke-width="0.85"/>
<line x1="478.93" y1="183.20" x2="478.93" y2="185.60" stroke="#aaaaaa" stroke-width="0.85"/>
<line x1="481.09" y1="183.20" x2="481.09" y2="185.60" stroke="#aaaaaa" stroke-width="0.85"/>
<line x1="483.24" y1="183.20" x2="483.24" y2="185.60" stroke="#aaaaaa" stroke-width="0.85"/>
<line x1="485.39" y1="183.20" x2="485.39" y2="185.60" stroke="#aaaaaa" stroke-width="0.85"/>
<line x1="487.55" y1="183.20" x2="487.55" y2="185.60" stroke="#aaaaaa" stroke-width="0.85"/>
<line x1="489.70" y1="183.20" x2="489.70" y2="185.60" stroke="#aaaaaa" stroke-width="0.85"/>
<text x="284.50" y="193.40" font-size="5.4" text-anchor="middle" fill="#222" stroke="#222" stroke-width="0.05" font-weight="normal" font-family="Liberation Sans" >1</text>
<text x="488.00" y="193.40" font-size="5.4" text-anchor="middle" fill="#222" stroke="#222" stroke-width="0.05" font-weight="normal" font-family="Liberation Sans" >96</text>
<text x="385.00" y="124.30" font-size="5.5" text-anchor="middle" fill="#111" stroke="#111" stroke-width="0.05" font-weight="normal" font-family="Liberation Sans" >fraction65, 2nd dimension</text>
<rect x="373.00" y="134.60" width="1.60" height="48.60" fill="#000" stroke="none" stroke-width="0"/>
<circle cx="375.70" cy="191.30" r="6.30" fill="none" stroke="#2a2a2a" stroke-width="1.05"/>
<text transform="translate(375.60 193.66) scale(1 1.27)" x="0" y="0" font-size="5.2" text-anchor="middle" fill="#1a1a1a" stroke="#1a1a1a" stroke-width="0.05" font-family="Liberation Sans">40</text>
<line x1="45.20" y1="232.00" x2="45.20" y2="295.70" stroke="#7f7f7f" stroke-width="1"/>
<line x1="43.20" y1="295.70" x2="45.20" y2="295.70" stroke="#999" stroke-width="0.9"/>
<text x="42.00" y="298.10" font-size="6.8" text-anchor="end" fill="#222" stroke="#222" stroke-width="0.05" font-weight="normal" font-family="Liberation Sans" >0</text>
<line x1="43.20" y1="282.96" x2="45.20" y2="282.96" stroke="#999" stroke-width="0.9"/>
<text x="42.00" y="285.36" font-size="6.8" text-anchor="end" fill="#222" stroke="#222" stroke-width="0.05" font-weight="normal" font-family="Liberation Sans" >200</text>
<line x1="43.20" y1="270.22" x2="45.20" y2="270.22" stroke="#999" stroke-width="0.9"/>
<text x="42.00" y="272.62" font-size="6.8" text-anchor="end" fill="#222" stroke="#222" stroke-width="0.05" font-weight="normal" font-family="Liberation Sans" >400</text>
<line x1="43.20" y1="257.48" x2="45.20" y2="257.48" stroke="#999" stroke-width="0.9"/>
<text x="42.00" y="259.88" font-size="6.8" text-anchor="end" fill="#222" stroke="#222" stroke-width="0.05" font-weight="normal" font-family="Liberation Sans" >600</text>
<line x1="43.20" y1="244.74" x2="45.20" y2="244.74" stroke="#999" stroke-width="0.9"/>
<text x="42.00" y="247.14" font-size="6.8" text-anchor="end" fill="#222" stroke="#222" stroke-width="0.05" font-weight="normal" font-family="Liberation Sans" >800</text>
<line x1="43.20" y1="232.00" x2="45.20" y2="232.00" stroke="#999" stroke-width="0.9"/>
<text x="42.00" y="234.40" font-size="6.8" text-anchor="end" fill="#222" stroke="#222" stroke-width="0.05" font-weight="normal" font-family="Liberation Sans" >1000</text>
<line x1="45.20" y1="295.70" x2="251.10" y2="295.70" stroke="#7f7f7f" stroke-width="1"/>
<line x1="45.20" y1="295.70" x2="45.20" y2="298.10" stroke="#8a8a8a" stroke-width="0.85"/>
<line x1="47.77" y1="295.70" x2="47.77" y2="298.10" stroke="#8a8a8a" stroke-width="0.85"/>
<line x1="50.35" y1="295.70" x2="50.35" y2="298.10" stroke="#8a8a8a" stroke-width="0.85"/>
<line x1="52.92" y1="295.70" x2="52.92" y2="298.10" stroke="#8a8a8a" stroke-width="0.85"/>
<line x1="55.50" y1="295.70" x2="55.50" y2="298.10" stroke="#8a8a8a" stroke-width="0.85"/>
<line x1="58.07" y1="295.70" x2="58.07" y2="298.10" stroke="#8a8a8a" stroke-width="0.85"/>
<line x1="60.64" y1="295.70" x2="60.64" y2="298.10" stroke="#8a8a8a" stroke-width="0.85"/>
<line x1="63.22" y1="295.70" x2="63.22" y2="298.10" stroke="#8a8a8a" stroke-width="0.85"/>
<line x1="65.79" y1="295.70" x2="65.79" y2="298.10" stroke="#8a8a8a" stroke-width="0.85"/>
<line x1="68.36" y1="295.70" x2="68.36" y2="298.10" stroke="#8a8a8a" stroke-width="0.85"/>
<line x1="70.94" y1="295.70" x2="70.94" y2="298.10" stroke="#8a8a8a" stroke-width="0.85"/>
<line x1="73.51" y1="295.70" x2="73.51" y2="298.10" stroke="#8a8a8a" stroke-width="0.85"/>
<line x1="76.08" y1="295.70" x2="76.08" y2="298.10" stroke="#8a8a8a" stroke-width="0.85"/>
<line x1="78.66" y1="295.70" x2="78.66" y2="298.10" stroke="#8a8a8a" stroke-width="0.85"/>
<line x1="81.23" y1="295.70" x2="81.23" y2="298.10" stroke="#8a8a8a" stroke-width="0.85"/>
<line x1="83.81" y1="295.70" x2="83.81" y2="298.10" stroke="#8a8a8a" stroke-width="0.85"/>
<line x1="86.38" y1="295.70" x2="86.38" y2="298.10" stroke="#8a8a8a" stroke-width="0.85"/>
<line x1="88.95" y1="295.70" x2="88.95" y2="298.10" stroke="#8a8a8a" stroke-width="0.85"/>
<line x1="91.53" y1="295.70" x2="91.53" y2="298.10" stroke="#8a8a8a" stroke-width="0.85"/>
<line x1="94.10" y1="295.70" x2="94.10" y2="298.10" stroke="#8a8a8a" stroke-width="0.85"/>
<line x1="96.67" y1="295.70" x2="96.67" y2="298.10" stroke="#8a8a8a" stroke-width="0.85"/>
<line x1="99.25" y1="295.70" x2="99.25" y2="298.10" stroke="#8a8a8a" stroke-width="0.85"/>
<line x1="101.82" y1="295.70" x2="101.82" y2="298.10" stroke="#8a8a8a" stroke-width="0.85"/>
<line x1="104.40" y1="295.70" x2="104.40" y2="298.10" stroke="#8a8a8a" stroke-width="0.85"/>
<line x1="106.97" y1="295.70" x2="106.97" y2="298.10" stroke="#8a8a8a" stroke-width="0.85"/>
<line x1="109.54" y1="295.70" x2="109.54" y2="298.10" stroke="#8a8a8a" stroke-width="0.85"/>
<line x1="112.12" y1="295.70" x2="112.12" y2="298.10" stroke="#8a8a8a" stroke-width="0.85"/>
<line x1="114.69" y1="295.70" x2="114.69" y2="298.10" stroke="#8a8a8a" stroke-width="0.85"/>
<line x1="117.26" y1="295.70" x2="117.26" y2="298.10" stroke="#8a8a8a" stroke-width="0.85"/>
<line x1="119.84" y1="295.70" x2="119.84" y2="298.10" stroke="#8a8a8a" stroke-width="0.85"/>
<line x1="122.41" y1="295.70" x2="122.41" y2="298.10" stroke="#8a8a8a" stroke-width="0.85"/>
<line x1="124.99" y1="295.70" x2="124.99" y2="298.10" stroke="#8a8a8a" stroke-width="0.85"/>
<line x1="127.56" y1="295.70" x2="127.56" y2="298.10" stroke="#8a8a8a" stroke-width="0.85"/>
<line x1="130.13" y1="295.70" x2="130.13" y2="298.10" stroke="#8a8a8a" stroke-width="0.85"/>
<line x1="132.71" y1="295.70" x2="132.71" y2="298.10" stroke="#8a8a8a" stroke-width="0.85"/>
<line x1="135.28" y1="295.70" x2="135.28" y2="298.10" stroke="#8a8a8a" stroke-width="0.85"/>
<line x1="137.85" y1="295.70" x2="137.85" y2="298.10" stroke="#8a8a8a" stroke-width="0.85"/>
<line x1="140.43" y1="295.70" x2="140.43" y2="298.10" stroke="#8a8a8a" stroke-width="0.85"/>
<line x1="143.00" y1="295.70" x2="143.00" y2="298.10" stroke="#8a8a8a" stroke-width="0.85"/>
<line x1="145.58" y1="295.70" x2="145.58" y2="298.10" stroke="#8a8a8a" stroke-width="0.85"/>
<line x1="148.15" y1="295.70" x2="148.15" y2="298.10" stroke="#8a8a8a" stroke-width="0.85"/>
<line x1="150.72" y1="295.70" x2="150.72" y2="298.10" stroke="#8a8a8a" stroke-width="0.85"/>
<line x1="153.30" y1="295.70" x2="153.30" y2="298.10" stroke="#8a8a8a" stroke-width="0.85"/>
<line x1="155.87" y1="295.70" x2="155.87" y2="298.10" stroke="#8a8a8a" stroke-width="0.85"/>
<line x1="158.44" y1="295.70" x2="158.44" y2="298.10" stroke="#8a8a8a" stroke-width="0.85"/>
<line x1="161.02" y1="295.70" x2="161.02" y2="298.10" stroke="#8a8a8a" stroke-width="0.85"/>
<line x1="163.59" y1="295.70" x2="163.59" y2="298.10" stroke="#8a8a8a" stroke-width="0.85"/>
<line x1="166.17" y1="295.70" x2="166.17" y2="298.10" stroke="#8a8a8a" stroke-width="0.85"/>
<line x1="168.74" y1="295.70" x2="168.74" y2="298.10" stroke="#8a8a8a" stroke-width="0.85"/>
<line x1="171.31" y1="295.70" x2="171.31" y2="298.10" stroke="#8a8a8a" stroke-width="0.85"/>
<line x1="173.89" y1="295.70" x2="173.89" y2="298.10" stroke="#8a8a8a" stroke-width="0.85"/>
<line x1="176.46" y1="295.70" x2="176.46" y2="298.10" stroke="#8a8a8a" stroke-width="0.85"/>
<line x1="179.03" y1="295.70" x2="179.03" y2="298.10" stroke="#8a8a8a" stroke-width="0.85"/>
<line x1="181.61" y1="295.70" x2="181.61" y2="298.10" stroke="#8a8a8a" stroke-width="0.85"/>
<line x1="184.18" y1="295.70" x2="184.18" y2="298.10" stroke="#8a8a8a" stroke-width="0.85"/>
<line x1="186.76" y1="295.70" x2="186.76" y2="298.10" stroke="#8a8a8a" stroke-width="0.85"/>
<line x1="189.33" y1="295.70" x2="189.33" y2="298.10" stroke="#8a8a8a" stroke-width="0.85"/>
<line x1="191.90" y1="295.70" x2="191.90" y2="298.10" stroke="#8a8a8a" stroke-width="0.85"/>
<line x1="194.48" y1="295.70" x2="194.48" y2="298.10" stroke="#8a8a8a" stroke-width="0.85"/>
<line x1="197.05" y1="295.70" x2="197.05" y2="298.10" stroke="#8a8a8a" stroke-width="0.85"/>
<line x1="199.62" y1="295.70" x2="199.62" y2="298.10" stroke="#8a8a8a" stroke-width="0.85"/>
<line x1="202.20" y1="295.70" x2="202.20" y2="298.10" stroke="#8a8a8a" stroke-width="0.85"/>
<line x1="204.77" y1="295.70" x2="204.77" y2="298.10" stroke="#8a8a8a" stroke-width="0.85"/>
<line x1="207.35" y1="295.70" x2="207.35" y2="298.10" stroke="#8a8a8a" stroke-width="0.85"/>
<line x1="209.92" y1="295.70" x2="209.92" y2="298.10" stroke="#8a8a8a" stroke-width="0.85"/>
<line x1="212.49" y1="295.70" x2="212.49" y2="298.10" stroke="#8a8a8a" stroke-width="0.85"/>
<line x1="215.07" y1="295.70" x2="215.07" y2="298.10" stroke="#8a8a8a" stroke-width="0.85"/>
<line x1="217.64" y1="295.70" x2="217.64" y2="298.10" stroke="#8a8a8a" stroke-width="0.85"/>
<line x1="220.21" y1="295.70" x2="220.21" y2="298.10" stroke="#8a8a8a" stroke-width="0.85"/>
<line x1="222.79" y1="295.70" x2="222.79" y2="298.10" stroke="#8a8a8a" stroke-width="0.85"/>
<line x1="225.36" y1="295.70" x2="225.36" y2="298.10" stroke="#8a8a8a" stroke-width="0.85"/>
<line x1="227.94" y1="295.70" x2="227.94" y2="298.10" stroke="#8a8a8a" stroke-width="0.85"/>
<line x1="230.51" y1="295.70" x2="230.51" y2="298.10" stroke="#8a8a8a" stroke-width="0.85"/>
<line x1="233.08" y1="295.70" x2="233.08" y2="298.10" stroke="#8a8a8a" stroke-width="0.85"/>
<line x1="235.66" y1="295.70" x2="235.66" y2="298.10" stroke="#8a8a8a" stroke-width="0.85"/>
<line x1="238.23" y1="295.70" x2="238.23" y2="298.10" stroke="#8a8a8a" stroke-width="0.85"/>
<line x1="240.80" y1="295.70" x2="240.80" y2="298.10" stroke="#8a8a8a" stroke-width="0.85"/>
<line x1="243.38" y1="295.70" x2="243.38" y2="298.10" stroke="#8a8a8a" stroke-width="0.85"/>
<line x1="245.95" y1="295.70" x2="245.95" y2="298.10" stroke="#8a8a8a" stroke-width="0.85"/>
<line x1="248.53" y1="295.70" x2="248.53" y2="298.10" stroke="#8a8a8a" stroke-width="0.85"/>
<line x1="251.10" y1="295.70" x2="251.10" y2="298.10" stroke="#8a8a8a" stroke-width="0.85"/>
<text x="47.30" y="304.20" font-size="5.4" text-anchor="middle" fill="#222" stroke="#222" stroke-width="0.05" font-weight="normal" font-family="Liberation Sans" >1</text>
<text x="250.10" y="304.20" font-size="5.4" text-anchor="middle" fill="#222" stroke="#222" stroke-width="0.05" font-weight="normal" font-family="Liberation Sans" >80</text>
<text x="149.20" y="231.60" font-size="5.5" text-anchor="middle" fill="#111" stroke="#111" stroke-width="0.05" font-weight="normal" font-family="Liberation Sans" >fraction 42.14, 3rd dimension</text>
<text x="24.70" y="264.50" font-size="8.9" text-anchor="middle" fill="#1a1a1a" font-weight="normal" font-family="Liberation Sans" transform="rotate(-90 24.70 264.50)">IFN&#947; pg/ml</text>
<rect x="118.00" y="280.20" width="1.60" height="15.50" fill="#000" stroke="none" stroke-width="0"/>
<rect x="120.80" y="242.50" width="1.80" height="53.20" fill="#000" stroke="none" stroke-width="0"/>
<rect x="107.7" y="292.8" width="24.6" height="9.4" fill="none" stroke="#222" stroke-width="1.2"/>
<line x1="121.20" y1="309.20" x2="121.20" y2="323.00" stroke="#333" stroke-width="1.1"/>
<polyline points="116.8,316.2 121.2,323 125.6,316.2" fill="none" stroke="#333" stroke-width="1.1"/>
<text x="61.90" y="335.80" font-size="8.85" text-anchor="start" fill="#111" stroke="#111" stroke-width="0.22" font-weight="normal" font-family="Liberation Sans" >Mass Spectrometry: HLA-DR&#945;</text>
<line x1="282.00" y1="231.70" x2="282.00" y2="296.80" stroke="#7f7f7f" stroke-width="1"/>
<line x1="280.00" y1="296.80" x2="282.00" y2="296.80" stroke="#999" stroke-width="0.9"/>
<text x="278.80" y="299.20" font-size="6.8" text-anchor="end" fill="#222" stroke="#222" stroke-width="0.05" font-weight="normal" font-family="Liberation Sans" >0</text>
<line x1="280.00" y1="280.52" x2="282.00" y2="280.52" stroke="#999" stroke-width="0.9"/>
<text x="278.80" y="282.92" font-size="6.8" text-anchor="end" fill="#222" stroke="#222" stroke-width="0.05" font-weight="normal" font-family="Liberation Sans" >200</text>
<line x1="280.00" y1="264.25" x2="282.00" y2="264.25" stroke="#999" stroke-width="0.9"/>
<text x="278.80" y="266.65" font-size="6.8" text-anchor="end" fill="#222" stroke="#222" stroke-width="0.05" font-weight="normal" font-family="Liberation Sans" >400</text>
<line x1="280.00" y1="247.97" x2="282.00" y2="247.97" stroke="#999" stroke-width="0.9"/>
<text x="278.80" y="250.38" font-size="6.8" text-anchor="end" fill="#222" stroke="#222" stroke-width="0.05" font-weight="normal" font-family="Liberation Sans" >600</text>
<line x1="280.00" y1="231.70" x2="282.00" y2="231.70" stroke="#999" stroke-width="0.9"/>
<text x="278.80" y="234.10" font-size="6.8" text-anchor="end" fill="#222" stroke="#222" stroke-width="0.05" font-weight="normal" font-family="Liberation Sans" >800</text>
<line x1="282.00" y1="296.80" x2="488.70" y2="296.80" stroke="#7f7f7f" stroke-width="1"/>
<line x1="282.00" y1="296.80" x2="282.00" y2="299.20" stroke="#8a8a8a" stroke-width="0.85"/>
<line x1="284.58" y1="296.80" x2="284.58" y2="299.20" stroke="#8a8a8a" stroke-width="0.85"/>
<line x1="287.17" y1="296.80" x2="287.17" y2="299.20" stroke="#8a8a8a" stroke-width="0.85"/>
<line x1="289.75" y1="296.80" x2="289.75" y2="299.20" stroke="#8a8a8a" stroke-width="0.85"/>
<line x1="292.33" y1="296.80" x2="292.33" y2="299.20" stroke="#8a8a8a" stroke-width="0.85"/>
<line x1="294.92" y1="296.80" x2="294.92" y2="299.20" stroke="#8a8a8a" stroke-width="0.85"/>
<line x1="297.50" y1="296.80" x2="297.50" y2="299.20" stroke="#8a8a8a" stroke-width="0.85"/>
<line x1="300.09" y1="296.80" x2="300.09" y2="299.20" stroke="#8a8a8a" stroke-width="0.85"/>
<line x1="302.67" y1="296.80" x2="302.67" y2="299.20" stroke="#8a8a8a" stroke-width="0.85"/>
<line x1="305.25" y1="296.80" x2="305.25" y2="299.20" stroke="#8a8a8a" stroke-width="0.85"/>
<line x1="307.84" y1="296.80" x2="307.84" y2="299.20" stroke="#8a8a8a" stroke-width="0.85"/>
<line x1="310.42" y1="296.80" x2="310.42" y2="299.20" stroke="#8a8a8a" stroke-width="0.85"/>
<line x1="313.00" y1="296.80" x2="313.00" y2="299.20" stroke="#8a8a8a" stroke-width="0.85"/>
<line x1="315.59" y1="296.80" x2="315.59" y2="299.20" stroke="#8a8a8a" stroke-width="0.85"/>
<line x1="318.17" y1="296.80" x2="318.17" y2="299.20" stroke="#8a8a8a" stroke-width="0.85"/>
<line x1="320.76" y1="296.80" x2="320.76" y2="299.20" stroke="#8a8a8a" stroke-width="0.85"/>
<line x1="323.34" y1="296.80" x2="323.34" y2="299.20" stroke="#8a8a8a" stroke-width="0.85"/>
<line x1="325.92" y1="296.80" x2="325.92" y2="299.20" stroke="#8a8a8a" stroke-width="0.85"/>
<line x1="328.51" y1="296.80" x2="328.51" y2="299.20" stroke="#8a8a8a" stroke-width="0.85"/>
<line x1="331.09" y1="296.80" x2="331.09" y2="299.20" stroke="#8a8a8a" stroke-width="0.85"/>
<line x1="333.68" y1="296.80" x2="333.68" y2="299.20" stroke="#8a8a8a" stroke-width="0.85"/>
<line x1="336.26" y1="296.80" x2="336.26" y2="299.20" stroke="#8a8a8a" stroke-width="0.85"/>
<line x1="338.84" y1="296.80" x2="338.84" y2="299.20" stroke="#8a8a8a" stroke-width="0.85"/>
<line x1="341.43" y1="296.80" x2="341.43" y2="299.20" stroke="#8a8a8a" stroke-width="0.85"/>
<line x1="344.01" y1="296.80" x2="344.01" y2="299.20" stroke="#8a8a8a" stroke-width="0.85"/>
<line x1="346.59" y1="296.80" x2="346.59" y2="299.20" stroke="#8a8a8a" stroke-width="0.85"/>
<line x1="349.18" y1="296.80" x2="349.18" y2="299.20" stroke="#8a8a8a" stroke-width="0.85"/>
<line x1="351.76" y1="296.80" x2="351.76" y2="299.20" stroke="#8a8a8a" stroke-width="0.85"/>
<line x1="354.35" y1="296.80" x2="354.35" y2="299.20" stroke="#8a8a8a" stroke-width="0.85"/>
<line x1="356.93" y1="296.80" x2="356.93" y2="299.20" stroke="#8a8a8a" stroke-width="0.85"/>
<line x1="359.51" y1="296.80" x2="359.51" y2="299.20" stroke="#8a8a8a" stroke-width="0.85"/>
<line x1="362.10" y1="296.80" x2="362.10" y2="299.20" stroke="#8a8a8a" stroke-width="0.85"/>
<line x1="364.68" y1="296.80" x2="364.68" y2="299.20" stroke="#8a8a8a" stroke-width="0.85"/>
<line x1="367.26" y1="296.80" x2="367.26" y2="299.20" stroke="#8a8a8a" stroke-width="0.85"/>
<line x1="369.85" y1="296.80" x2="369.85" y2="299.20" stroke="#8a8a8a" stroke-width="0.85"/>
<line x1="372.43" y1="296.80" x2="372.43" y2="299.20" stroke="#8a8a8a" stroke-width="0.85"/>
<line x1="375.01" y1="296.80" x2="375.01" y2="299.20" stroke="#8a8a8a" stroke-width="0.85"/>
<line x1="377.60" y1="296.80" x2="377.60" y2="299.20" stroke="#8a8a8a" stroke-width="0.85"/>
<line x1="380.18" y1="296.80" x2="380.18" y2="299.20" stroke="#8a8a8a" stroke-width="0.85"/>
<line x1="382.77" y1="296.80" x2="382.77" y2="299.20" stroke="#8a8a8a" stroke-width="0.85"/>
<line x1="385.35" y1="296.80" x2="385.35" y2="299.20" stroke="#8a8a8a" stroke-width="0.85"/>
<line x1="387.93" y1="296.80" x2="387.93" y2="299.20" stroke="#8a8a8a" stroke-width="0.85"/>
<line x1="390.52" y1="296.80" x2="390.52" y2="299.20" stroke="#8a8a8a" stroke-width="0.85"/>
<line x1="393.10" y1="296.80" x2="393.10" y2="299.20" stroke="#8a8a8a" stroke-width="0.85"/>
<line x1="395.69" y1="296.80" x2="395.69" y2="299.20" stroke="#8a8a8a" stroke-width="0.85"/>
<line x1="398.27" y1="296.80" x2="398.27" y2="299.20" stroke="#8a8a8a" stroke-width="0.85"/>
<line x1="400.85" y1="296.80" x2="400.85" y2="299.20" stroke="#8a8a8a" stroke-width="0.85"/>
<line x1="403.44" y1="296.80" x2="403.44" y2="299.20" stroke="#8a8a8a" stroke-width="0.85"/>
<line x1="406.02" y1="296.80" x2="406.02" y2="299.20" stroke="#8a8a8a" stroke-width="0.85"/>
<line x1="408.60" y1="296.80" x2="408.60" y2="299.20" stroke="#8a8a8a" stroke-width="0.85"/>
<line x1="411.19" y1="296.80" x2="411.19" y2="299.20" stroke="#8a8a8a" stroke-width="0.85"/>
<line x1="413.77" y1="296.80" x2="413.77" y2="299.20" stroke="#8a8a8a" stroke-width="0.85"/>
<line x1="416.36" y1="296.80" x2="416.36" y2="299.20" stroke="#8a8a8a" stroke-width="0.85"/>
<line x1="418.94" y1="296.80" x2="418.94" y2="299.20" stroke="#8a8a8a" stroke-width="0.85"/>
<line x1="421.52" y1="296.80" x2="421.52" y2="299.20" stroke="#8a8a8a" stroke-width="0.85"/>
<line x1="424.11" y1="296.80" x2="424.11" y2="299.20" stroke="#8a8a8a" stroke-width="0.85"/>
<line x1="426.69" y1="296.80" x2="426.69" y2="299.20" stroke="#8a8a8a" stroke-width="0.85"/>
<line x1="429.27" y1="296.80" x2="429.27" y2="299.20" stroke="#8a8a8a" stroke-width="0.85"/>
<line x1="431.86" y1="296.80" x2="431.86" y2="299.20" stroke="#8a8a8a" stroke-width="0.85"/>
<line x1="434.44" y1="296.80" x2="434.44" y2="299.20" stroke="#8a8a8a" stroke-width="0.85"/>
<line x1="437.02" y1="296.80" x2="437.02" y2="299.20" stroke="#8a8a8a" stroke-width="0.85"/>
<line x1="439.61" y1="296.80" x2="439.61" y2="299.20" stroke="#8a8a8a" stroke-width="0.85"/>
<line x1="442.19" y1="296.80" x2="442.19" y2="299.20" stroke="#8a8a8a" stroke-width="0.85"/>
<line x1="444.78" y1="296.80" x2="444.78" y2="299.20" stroke="#8a8a8a" stroke-width="0.85"/>
<line x1="447.36" y1="296.80" x2="447.36" y2="299.20" stroke="#8a8a8a" stroke-width="0.85"/>
<line x1="449.94" y1="296.80" x2="449.94" y2="299.20" stroke="#8a8a8a" stroke-width="0.85"/>
<line x1="452.53" y1="296.80" x2="452.53" y2="299.20" stroke="#8a8a8a" stroke-width="0.85"/>
<line x1="455.11" y1="296.80" x2="455.11" y2="299.20" stroke="#8a8a8a" stroke-width="0.85"/>
<line x1="457.69" y1="296.80" x2="457.69" y2="299.20" stroke="#8a8a8a" stroke-width="0.85"/>
<line x1="460.28" y1="296.80" x2="460.28" y2="299.20" stroke="#8a8a8a" stroke-width="0.85"/>
<line x1="462.86" y1="296.80" x2="462.86" y2="299.20" stroke="#8a8a8a" stroke-width="0.85"/>
<line x1="465.45" y1="296.80" x2="465.45" y2="299.20" stroke="#8a8a8a" stroke-width="0.85"/>
<line x1="468.03" y1="296.80" x2="468.03" y2="299.20" stroke="#8a8a8a" stroke-width="0.85"/>
<line x1="470.61" y1="296.80" x2="470.61" y2="299.20" stroke="#8a8a8a" stroke-width="0.85"/>
<line x1="473.20" y1="296.80" x2="473.20" y2="299.20" stroke="#8a8a8a" stroke-width="0.85"/>
<line x1="475.78" y1="296.80" x2="475.78" y2="299.20" stroke="#8a8a8a" stroke-width="0.85"/>
<line x1="478.37" y1="296.80" x2="478.37" y2="299.20" stroke="#8a8a8a" stroke-width="0.85"/>
<line x1="480.95" y1="296.80" x2="480.95" y2="299.20" stroke="#8a8a8a" stroke-width="0.85"/>
<line x1="483.53" y1="296.80" x2="483.53" y2="299.20" stroke="#8a8a8a" stroke-width="0.85"/>
<line x1="486.12" y1="296.80" x2="486.12" y2="299.20" stroke="#8a8a8a" stroke-width="0.85"/>
<line x1="488.70" y1="296.80" x2="488.70" y2="299.20" stroke="#8a8a8a" stroke-width="0.85"/>
<text x="283.60" y="304.60" font-size="5.4" text-anchor="middle" fill="#222" stroke="#222" stroke-width="0.05" font-weight="normal" font-family="Liberation Sans" >1</text>
<text x="486.20" y="304.60" font-size="5.4" text-anchor="middle" fill="#222" stroke="#222" stroke-width="0.05" font-weight="normal" font-family="Liberation Sans" >80</text>
<text x="389.00" y="236.80" font-size="5.5" text-anchor="middle" fill="#111" stroke="#111" stroke-width="0.05" font-weight="normal" font-family="Liberation Sans" >fraction 65.40, 3rd dimension</text>
<rect x="386.10" y="246.50" width="1.60" height="50.30" fill="#000" stroke="none" stroke-width="0"/>
<rect x="389.10" y="283.90" width="1.50" height="12.90" fill="#000" stroke="none" stroke-width="0"/>
<rect x="376.6" y="292.8" width="25.0" height="9.4" fill="none" stroke="#222" stroke-width="1.2"/>
<line x1="388.80" y1="309.70" x2="388.80" y2="323.00" stroke="#333" stroke-width="1.1"/>
<polyline points="384.4,316.6 388.8,323 393.2,316.6" fill="none" stroke="#333" stroke-width="1.1"/>
<text x="335.00" y="335.80" font-size="8.85" text-anchor="start" fill="#111" stroke="#111" stroke-width="0.22" font-weight="normal" font-family="Liberation Sans" >Mass Spectrometry: THRAP4</text>
<text x="4.60" y="374.90" font-size="15" text-anchor="start" fill="#000" font-weight="bold" font-family="Liberation Sans" >B</text>
<line x1="45.30" y1="384.80" x2="45.30" y2="479.30" stroke="#7f7f7f" stroke-width="1"/>
<line x1="42.80" y1="479.30" x2="45.30" y2="479.30" stroke="#7f7f7f" stroke-width="1"/>
<text x="40.90" y="483.90" font-size="8.6" text-anchor="end" fill="#1a1a1a" stroke="#1a1a1a" stroke-width="0.22" font-weight="normal" font-family="Liberation Sans" >0</text>
<line x1="42.80" y1="455.68" x2="45.30" y2="455.68" stroke="#7f7f7f" stroke-width="1"/>
<text x="39.50" y="459.48" font-size="8.6" text-anchor="end" fill="#1a1a1a" stroke="#1a1a1a" stroke-width="0.22" font-weight="normal" font-family="Liberation Sans" >200</text>
<line x1="42.80" y1="432.05" x2="45.30" y2="432.05" stroke="#7f7f7f" stroke-width="1"/>
<text x="39.50" y="435.85" font-size="8.6" text-anchor="end" fill="#1a1a1a" stroke="#1a1a1a" stroke-width="0.22" font-weight="normal" font-family="Liberation Sans" >400</text>
<line x1="42.80" y1="408.43" x2="45.30" y2="408.43" stroke="#7f7f7f" stroke-width="1"/>
<text x="39.50" y="412.23" font-size="8.6" text-anchor="end" fill="#1a1a1a" stroke="#1a1a1a" stroke-width="0.22" font-weight="normal" font-family="Liberation Sans" >600</text>
<line x1="42.80" y1="384.80" x2="45.30" y2="384.80" stroke="#7f7f7f" stroke-width="1"/>
<text x="39.50" y="388.60" font-size="8.6" text-anchor="end" fill="#1a1a1a" stroke="#1a1a1a" stroke-width="0.22" font-weight="normal" font-family="Liberation Sans" >800</text>
<line x1="45.30" y1="479.30" x2="207.99" y2="479.30" stroke="#7f7f7f" stroke-width="1"/>
<line x1="45.30" y1="479.30" x2="45.30" y2="481.10" stroke="#999" stroke-width="0.8"/>
<line x1="54.87" y1="479.30" x2="54.87" y2="481.10" stroke="#999" stroke-width="0.8"/>
<line x1="64.44" y1="479.30" x2="64.44" y2="481.10" stroke="#999" stroke-width="0.8"/>
<line x1="74.01" y1="479.30" x2="74.01" y2="481.10" stroke="#999" stroke-width="0.8"/>
<line x1="83.58" y1="479.30" x2="83.58" y2="481.10" stroke="#999" stroke-width="0.8"/>
<line x1="93.15" y1="479.30" x2="93.15" y2="481.10" stroke="#999" stroke-width="0.8"/>
<line x1="102.72" y1="479.30" x2="102.72" y2="481.10" stroke="#999" stroke-width="0.8"/>
<line x1="112.29" y1="479.30" x2="112.29" y2="481.10" stroke="#999" stroke-width="0.8"/>
<line x1="121.86" y1="479.30" x2="121.86" y2="481.10" stroke="#999" stroke-width="0.8"/>
<line x1="131.43" y1="479.30" x2="131.43" y2="481.10" stroke="#999" stroke-width="0.8"/>
<line x1="141.00" y1="479.30" x2="141.00" y2="481.10" stroke="#999" stroke-width="0.8"/>
<line x1="150.57" y1="479.30" x2="150.57" y2="481.10" stroke="#999" stroke-width="0.8"/>
<line x1="160.14" y1="479.30" x2="160.14" y2="481.10" stroke="#999" stroke-width="0.8"/>
<line x1="169.71" y1="479.30" x2="169.71" y2="481.10" stroke="#999" stroke-width="0.8"/>
<line x1="179.28" y1="479.30" x2="179.28" y2="481.10" stroke="#999" stroke-width="0.8"/>
<line x1="188.85" y1="479.30" x2="188.85" y2="481.10" stroke="#999" stroke-width="0.8"/>
<line x1="198.42" y1="479.30" x2="198.42" y2="481.10" stroke="#999" stroke-width="0.8"/>
<line x1="207.99" y1="479.30" x2="207.99" y2="481.10" stroke="#999" stroke-width="0.8"/>
<text x="16.00" y="425.80" font-size="8.9" text-anchor="middle" fill="#1a1a1a" stroke="#1a1a1a" stroke-width="0.05" font-weight="normal" font-family="Liberation Sans" transform="rotate(-90 16.0 425.8)">IFN&#947; pg/ml</text>
<path d="M50.20,397.00 C51.80,396.87 56.58,396.43 59.77,396.20 C62.96,395.97 66.15,395.80 69.34,395.60 C72.53,395.40 75.72,395.45 78.91,395.00 C82.10,394.55 85.29,393.05 88.48,392.90 C91.67,392.75 94.86,393.55 98.05,394.10 C101.24,394.65 104.43,395.82 107.62,396.20 C110.81,396.58 114.00,395.73 117.19,396.40 C120.38,397.07 123.57,397.93 126.76,400.20 C129.95,402.47 133.14,403.90 136.33,410.00 C139.52,416.10 142.71,429.58 145.90,436.80 C149.09,444.02 152.28,446.33 155.47,453.30 C158.66,460.27 163.45,474.38 165.04,478.60" fill="none" stroke="#000" stroke-width="1.7"/>
<path d="M50.20,394.10 L53.10,397.00 L50.20,399.90 L47.30,397.00 Z" fill="#000"/>
<path d="M59.77,393.30 L62.67,396.20 L59.77,399.10 L56.87,396.20 Z" fill="#000"/>
<path d="M69.34,392.70 L72.24,395.60 L69.34,398.50 L66.44,395.60 Z" fill="#000"/>
<path d="M78.91,392.10 L81.81,395.00 L78.91,397.90 L76.01,395.00 Z" fill="#000"/>
<path d="M88.48,390.00 L91.38,392.90 L88.48,395.80 L85.58,392.90 Z" fill="#000"/>
<path d="M98.05,391.20 L100.95,394.10 L98.05,397.00 L95.15,394.10 Z" fill="#000"/>
<path d="M107.62,393.30 L110.52,396.20 L107.62,399.10 L104.72,396.20 Z" fill="#000"/>
<path d="M117.19,393.50 L120.09,396.40 L117.19,399.30 L114.29,396.40 Z" fill="#000"/>
<path d="M126.76,397.30 L129.66,400.20 L126.76,403.10 L123.86,400.20 Z" fill="#000"/>
<path d="M136.33,407.10 L139.23,410.00 L136.33,412.90 L133.43,410.00 Z" fill="#000"/>
<path d="M145.90,433.90 L148.80,436.80 L145.90,439.70 L143.00,436.80 Z" fill="#000"/>
<path d="M155.47,450.40 L158.37,453.30 L155.47,456.20 L152.57,453.30 Z" fill="#000"/>
<path d="M165.04,475.70 L167.94,478.60 L165.04,481.50 L162.14,478.60 Z" fill="#000"/>
<path d="M50.20,397.10 C51.80,397.33 56.58,398.27 59.77,398.50 C62.96,398.73 66.15,399.43 69.34,398.50 C72.53,397.57 75.72,393.58 78.91,392.90 C82.10,392.22 85.29,393.42 88.48,394.40 C91.67,395.38 94.86,396.30 98.05,398.80 C101.24,401.30 104.43,402.30 107.62,409.40 C110.81,416.50 114.00,430.83 117.19,441.40 C120.38,451.97 123.57,466.60 126.76,472.80 C129.95,479.00 133.14,477.63 136.33,478.60 C139.52,479.57 142.71,478.60 145.90,478.60 C149.09,478.60 152.28,478.60 155.47,478.60 C158.66,478.60 161.85,478.60 165.04,478.60 C168.23,478.60 171.42,478.60 174.61,478.60 C177.80,478.60 180.99,478.60 184.18,478.60 C187.37,478.60 190.56,478.60 193.75,478.60 C196.94,478.60 201.72,478.60 203.32,478.60" fill="none" stroke="#8c8c8c" stroke-width="1.5"/>
<path d="M50.20,394.20 L53.10,397.10 L50.20,400.00 L47.30,397.10 Z" fill="#8c8c8c"/>
<path d="M59.77,395.60 L62.67,398.50 L59.77,401.40 L56.87,398.50 Z" fill="#8c8c8c"/>
<path d="M69.34,395.60 L72.24,398.50 L69.34,401.40 L66.44,398.50 Z" fill="#8c8c8c"/>
<path d="M78.91,390.00 L81.81,392.90 L78.91,395.80 L76.01,392.90 Z" fill="#8c8c8c"/>
<path d="M88.48,391.50 L91.38,394.40 L88.48,397.30 L85.58,394.40 Z" fill="#8c8c8c"/>
<path d="M98.05,395.90 L100.95,398.80 L98.05,401.70 L95.15,398.80 Z" fill="#8c8c8c"/>
<path d="M107.62,406.50 L110.52,409.40 L107.62,412.30 L104.72,409.40 Z" fill="#8c8c8c"/>
<path d="M117.19,438.50 L120.09,441.40 L117.19,444.30 L114.29,441.40 Z" fill="#8c8c8c"/>
<path d="M126.76,469.90 L129.66,472.80 L126.76,475.70 L123.86,472.80 Z" fill="#8c8c8c"/>
<path d="M136.33,475.70 L139.23,478.60 L136.33,481.50 L133.43,478.60 Z" fill="#8c8c8c"/>
<path d="M145.90,475.70 L148.80,478.60 L145.90,481.50 L143.00,478.60 Z" fill="#8c8c8c"/>
<path d="M155.47,475.70 L158.37,478.60 L155.47,481.50 L152.57,478.60 Z" fill="#8c8c8c"/>
<path d="M165.04,475.70 L167.94,478.60 L165.04,481.50 L162.14,478.60 Z" fill="#8c8c8c"/>
<path d="M174.61,475.70 L177.51,478.60 L174.61,481.50 L171.71,478.60 Z" fill="#8c8c8c"/>
<path d="M184.18,475.70 L187.08,478.60 L184.18,481.50 L181.28,478.60 Z" fill="#8c8c8c"/>
<path d="M193.75,475.70 L196.65,478.60 L193.75,481.50 L190.85,478.60 Z" fill="#8c8c8c"/>
<path d="M203.32,475.70 L206.22,478.60 L203.32,481.50 L200.42,478.60 Z" fill="#8c8c8c"/>
<line x1="168.00" y1="401.20" x2="182.70" y2="401.20" stroke="#000" stroke-width="1.0"/>
<path d="M175.40,398.70 L177.90,401.20 L175.40,403.70 L172.90,401.20 Z" fill="#000"/>
<line x1="168.00" y1="437.40" x2="182.70" y2="437.40" stroke="#8c8c8c" stroke-width="1.0"/>
<path d="M175.40,434.90 L177.90,437.40 L175.40,439.90 L172.90,437.40 Z" fill="#8c8c8c"/>
<text x="185.00" y="404.20" font-size="8.8" text-anchor="start" fill="#1a1a1a" stroke="#1a1a1a" stroke-width="0.22" font-weight="normal" font-family="Liberation Sans" >HLA-DR1&#945;,</text>
<text x="185.00" y="414.80" font-size="8.8" text-anchor="start" fill="#1a1a1a" stroke="#1a1a1a" stroke-width="0.22" font-weight="normal" font-family="Liberation Sans" >EC50 = 0,1nM</text>
<text x="185.00" y="440.80" font-size="8.8" text-anchor="start" fill="#1a1a1a" stroke="#1a1a1a" stroke-width="0.22" font-weight="normal" font-family="Liberation Sans" >THRAP4,</text>
<text x="185.00" y="451.30" font-size="8.8" text-anchor="start" fill="#1a1a1a" stroke="#1a1a1a" stroke-width="0.22" font-weight="normal" font-family="Liberation Sans" >EC50 = 3nM</text>
<text x="51.80" y="488.40" font-size="8.6" text-anchor="end" fill="#1a1a1a" font-family="Liberation Sans" transform="rotate(-45 51.80 488.40)">10<tspan font-size="5.6" dy="-3.4">4</tspan></text>
<text x="70.94" y="488.40" font-size="8.6" text-anchor="end" fill="#1a1a1a" font-family="Liberation Sans" transform="rotate(-45 70.94 488.40)">10<tspan font-size="5.6" dy="-3.4">3</tspan></text>
<text x="90.08" y="488.40" font-size="8.6" text-anchor="end" fill="#1a1a1a" font-family="Liberation Sans" transform="rotate(-45 90.08 488.40)">10<tspan font-size="5.6" dy="-3.4">2</tspan></text>
<text x="109.22" y="488.40" font-size="8.6" text-anchor="end" fill="#1a1a1a" font-family="Liberation Sans" transform="rotate(-45 109.22 488.40)">10<tspan font-size="5.6" dy="-3.4">1</tspan></text>
<text x="128.36" y="488.40" font-size="8.6" text-anchor="end" fill="#1a1a1a" font-family="Liberation Sans" transform="rotate(-45 128.36 488.40)">10<tspan font-size="5.6" dy="-3.4">0</tspan></text>
<text x="147.50" y="488.40" font-size="8.6" text-anchor="end" fill="#1a1a1a" font-family="Liberation Sans" transform="rotate(-45 147.50 488.40)">10<tspan font-size="5.6" dy="-3.4">&#8722;1</tspan></text>
<text x="166.64" y="488.40" font-size="8.6" text-anchor="end" fill="#1a1a1a" font-family="Liberation Sans" transform="rotate(-45 166.64 488.40)">10<tspan font-size="5.6" dy="-3.4">&#8722;2</tspan></text>
<text x="185.78" y="488.40" font-size="8.6" text-anchor="end" fill="#1a1a1a" font-family="Liberation Sans" transform="rotate(-45 185.78 488.40)">10<tspan font-size="5.6" dy="-3.4">&#8722;3</tspan></text>
<text x="204.92" y="488.40" font-size="8.6" text-anchor="end" fill="#1a1a1a" font-family="Liberation Sans" transform="rotate(-45 204.92 488.40)">10<tspan font-size="5.6" dy="-3.4">&#8722;4</tspan></text>
<text x="101.30" y="508.60" font-size="8.6" text-anchor="middle" fill="#1a1a1a" stroke="#1a1a1a" stroke-width="0.22" font-weight="normal" font-family="Liberation Sans" >nM peptide</text>
<text x="254.00" y="373.80" font-size="15" text-anchor="start" fill="#000" font-weight="bold" font-family="Liberation Sans" >C</text>
<line x1="316.50" y1="383.42" x2="316.50" y2="479.30" stroke="#7f7f7f" stroke-width="1"/>
<line x1="314.00" y1="479.30" x2="316.50" y2="479.30" stroke="#7f7f7f" stroke-width="1"/>
<text x="311.00" y="482.80" font-size="8.8" text-anchor="end" fill="#1a1a1a" stroke="#1a1a1a" stroke-width="0.08" font-weight="normal" font-family="Liberation Sans" >0,1</text>
<line x1="314.00" y1="463.32" x2="316.50" y2="463.32" stroke="#7f7f7f" stroke-width="1"/>
<text x="311.00" y="466.82" font-size="8.8" text-anchor="end" fill="#1a1a1a" stroke="#1a1a1a" stroke-width="0.08" font-weight="normal" font-family="Liberation Sans" >1</text>
<line x1="314.00" y1="447.34" x2="316.50" y2="447.34" stroke="#7f7f7f" stroke-width="1"/>
<text x="311.00" y="450.84" font-size="8.8" text-anchor="end" fill="#1a1a1a" stroke="#1a1a1a" stroke-width="0.08" font-weight="normal" font-family="Liberation Sans" >10</text>
<line x1="314.00" y1="431.36" x2="316.50" y2="431.36" stroke="#7f7f7f" stroke-width="1"/>
<text x="311.00" y="434.86" font-size="8.8" text-anchor="end" fill="#1a1a1a" stroke="#1a1a1a" stroke-width="0.08" font-weight="normal" font-family="Liberation Sans" >100</text>
<line x1="314.00" y1="415.38" x2="316.50" y2="415.38" stroke="#7f7f7f" stroke-width="1"/>
<text x="311.00" y="418.88" font-size="8.8" text-anchor="end" fill="#1a1a1a" stroke="#1a1a1a" stroke-width="0.08" font-weight="normal" font-family="Liberation Sans" >1000</text>
<line x1="314.00" y1="399.40" x2="316.50" y2="399.40" stroke="#7f7f7f" stroke-width="1"/>
<text x="311.00" y="402.90" font-size="8.8" text-anchor="end" fill="#1a1a1a" stroke="#1a1a1a" stroke-width="0.08" font-weight="normal" font-family="Liberation Sans" >10000</text>
<line x1="314.00" y1="383.42" x2="316.50" y2="383.42" stroke="#7f7f7f" stroke-width="1"/>
<text x="311.00" y="386.92" font-size="8.8" text-anchor="end" fill="#1a1a1a" stroke="#1a1a1a" stroke-width="0.08" font-weight="normal" font-family="Liberation Sans" >100000</text>
<line x1="316.50" y1="479.30" x2="474.10" y2="479.30" stroke="#7f7f7f" stroke-width="1"/>
<text x="277.30" y="433.50" font-size="8.8" text-anchor="middle" fill="#1a1a1a" stroke="#1a1a1a" stroke-width="0.05" font-weight="normal" font-family="Liberation Sans" transform="rotate(-90 277.3 430.6)">EC50 compared to wt peptide</text>
<rect x="325.00" y="447.60" width="10.60" height="31.70" fill="#c0c0c0" stroke="#000" stroke-width="1"/>
<rect x="336.10" y="439.40" width="11.60" height="39.90" fill="#000"/>
<rect x="364.50" y="384.75" width="10.60" height="94.55" fill="#c0c0c0" stroke="#000" stroke-width="1"/>
<rect x="375.60" y="384.70" width="11.60" height="94.60" fill="#000"/>
<rect x="403.80" y="455.80" width="10.60" height="23.50" fill="#c0c0c0" stroke="#000" stroke-width="1"/>
<rect x="414.90" y="458.10" width="11.60" height="21.20" fill="#000"/>
<rect x="443.10" y="444.40" width="10.60" height="34.90" fill="#c0c0c0" stroke="#000" stroke-width="1"/>
<rect x="454.20" y="439.50" width="11.60" height="39.80" fill="#000"/>
<text x="335.60" y="491.10" font-size="8.4" text-anchor="middle" fill="#1a1a1a" stroke="#1a1a1a" stroke-width="0.08" font-weight="normal" font-family="Liberation Sans" >P1</text>
<text x="375.60" y="491.10" font-size="8.4" text-anchor="middle" fill="#1a1a1a" stroke="#1a1a1a" stroke-width="0.08" font-weight="normal" font-family="Liberation Sans" >P4</text>
<text x="415.00" y="491.10" font-size="8.4" text-anchor="middle" fill="#1a1a1a" stroke="#1a1a1a" stroke-width="0.08" font-weight="normal" font-family="Liberation Sans" >P6</text>
<text x="454.60" y="491.10" font-size="8.4" text-anchor="middle" fill="#1a1a1a" stroke="#1a1a1a" stroke-width="0.08" font-weight="normal" font-family="Liberation Sans" >P7</text>
<rect x="397.6" y="387.6" width="118.4" height="38.8" fill="#fff" stroke="#000" stroke-width="1.3"/>
<text transform="translate(403.60 396.70) scale(1 0.8)" x="0" y="0" font-size="8.2" fill="#111" font-weight="bold" font-family="Liberation Mono">P</text>
<text transform="translate(414.00 396.70) scale(1 0.8)" x="0" y="0" font-size="8.2" fill="#111" font-weight="bold" font-family="Liberation Mono">1</text>
<text transform="translate(430.00 396.70) scale(1 0.8)" x="0" y="0" font-size="8.2" fill="#111" font-weight="bold" font-family="Liberation Mono">4</text>
<text transform="translate(440.60 396.70) scale(1 0.8)" x="0" y="0" font-size="8.2" fill="#111" font-weight="bold" font-family="Liberation Mono">6</text>
<text transform="translate(445.80 396.70) scale(1 0.8)" x="0" y="0" font-size="8.2" fill="#111" font-weight="bold" font-family="Liberation Mono">7</text>
<rect x="403.60" y="403.80" width="4.00" height="3.80" fill="#c0c0c0" stroke="#111" stroke-width="1.2"/>
<rect x="403.10" y="415.70" width="5.00" height="4.80" fill="#000" stroke="none" stroke-width="0"/>
<text transform="translate(415.20 407.80) scale(1 0.8)" x="0" y="0" font-size="8.2" fill="#111" font-weight="bold" font-family="Liberation Mono">F</text>
<text transform="translate(420.60 407.80) scale(1 0.8)" x="0" y="0" font-size="8.2" fill="#d2d2d2" font-weight="normal" font-family="Liberation Mono">I</text>
<text transform="translate(425.20 407.80) scale(1 0.8)" x="0" y="0" font-size="8.2" fill="#d2d2d2" font-weight="normal" font-family="Liberation Mono">D</text>
<text transform="translate(429.80 407.80) scale(1 0.8)" x="0" y="0" font-size="8.2" fill="#111" font-weight="bold" font-family="Liberation Mono">K</text>
<text transform="translate(435.30 407.80) scale(1 0.8)" x="0" y="0" font-size="8.2" fill="#d2d2d2" font-weight="normal" font-family="Liberation Mono">F</text>
<text transform="translate(439.60 407.80) scale(1 0.8)" x="0" y="0" font-size="8.2" fill="#111" font-weight="bold" font-family="Liberation Mono">T</text>
<text transform="translate(445.20 407.80) scale(1 0.8)" x="0" y="0" font-size="8.2" fill="#111" font-weight="bold" font-family="Liberation Mono">P</text>
<text transform="translate(451.00 407.80) scale(1 0.8)" x="0" y="0" font-size="8.2" fill="#d2d2d2" font-weight="normal" font-family="Liberation Mono">P</text>
<text transform="translate(456.20 407.80) scale(1 0.8)" x="0" y="0" font-size="8.2" fill="#d2d2d2" font-weight="normal" font-family="Liberation Mono">V</text>
<text transform="translate(462.00 407.80) scale(1 0.8)" x="0" y="0" font-size="8.4" fill="#111" font-weight="bold" font-family="Liberation Mono">,</text>
<text transform="translate(467.00 407.80) scale(1 0.8)" x="0" y="0" font-size="8.6" fill="#7a7a7a" font-weight="normal" font-family="Liberation Mono" letter-spacing="0.1">HLA-DR1a</text>
<text transform="translate(415.20 420.00) scale(1 0.8)" x="0" y="0" font-size="8.2" fill="#111" font-weight="bold" font-family="Liberation Mono">F</text>
<text transform="translate(420.60 420.00) scale(1 0.8)" x="0" y="0" font-size="8.2" fill="#d2d2d2" font-weight="normal" font-family="Liberation Mono">L</text>
<text transform="translate(425.20 420.00) scale(1 0.8)" x="0" y="0" font-size="8.2" fill="#d2d2d2" font-weight="normal" font-family="Liberation Mono">L</text>
<text transform="translate(429.80 420.00) scale(1 0.8)" x="0" y="0" font-size="8.2" fill="#111" font-weight="bold" font-family="Liberation Mono">K</text>
<text transform="translate(435.30 420.00) scale(1 0.8)" x="0" y="0" font-size="8.2" fill="#d2d2d2" font-weight="normal" font-family="Liberation Mono">L</text>
<text transform="translate(439.60 420.00) scale(1 0.8)" x="0" y="0" font-size="8.2" fill="#111" font-weight="bold" font-family="Liberation Mono">T</text>
<text transform="translate(445.20 420.00) scale(1 0.8)" x="0" y="0" font-size="8.2" fill="#111" font-weight="bold" font-family="Liberation Mono">P</text>
<text transform="translate(451.00 420.00) scale(1 0.8)" x="0" y="0" font-size="8.2" fill="#d2d2d2" font-weight="normal" font-family="Liberation Mono">L</text>
<text transform="translate(456.20 420.00) scale(1 0.8)" x="0" y="0" font-size="8.2" fill="#d2d2d2" font-weight="normal" font-family="Liberation Mono">L</text>
<text transform="translate(462.00 420.00) scale(1 0.8)" x="0" y="0" font-size="8.4" fill="#111" font-weight="bold" font-family="Liberation Mono">,</text>
<text transform="translate(467.00 420.00) scale(1 0.8)" x="0" y="0" font-size="8.6" fill="#7a7a7a" font-weight="normal" font-family="Liberation Mono" letter-spacing="0.1">THRAP4</text>
</svg>
</body></html>
